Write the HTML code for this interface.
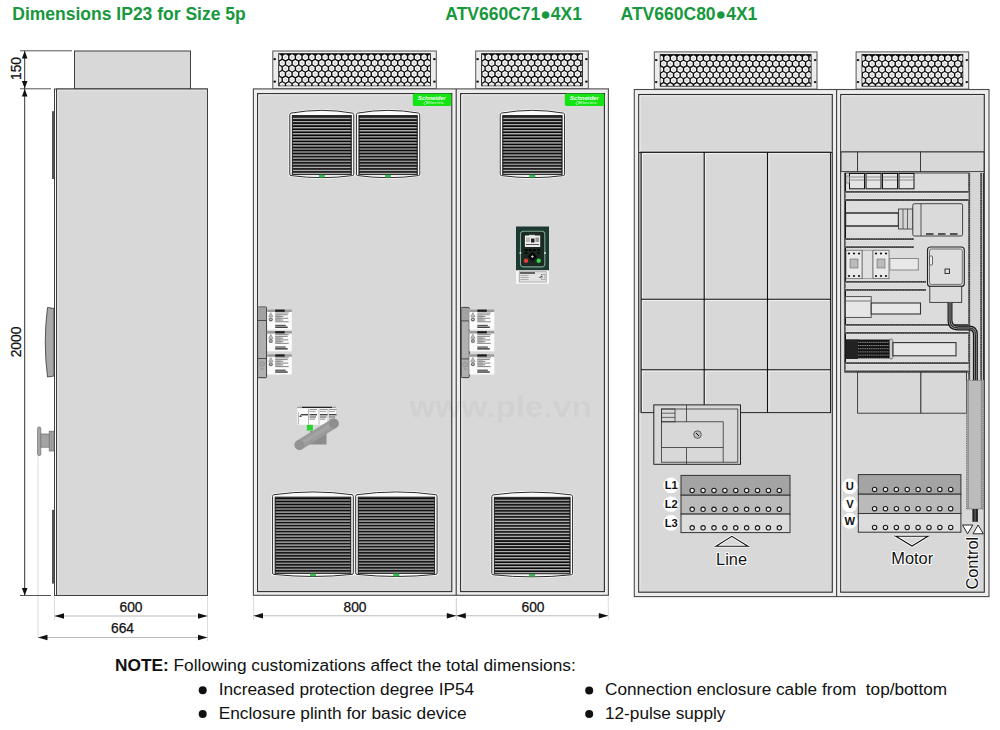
<!DOCTYPE html>
<html><head><meta charset="utf-8"><title>Dimensions IP23 for Size 5p</title>
<style>html,body{margin:0;padding:0;background:#fff;width:1000px;height:730px;overflow:hidden}
svg{display:block;font-family:"Liberation Sans",sans-serif;-webkit-font-smoothing:antialiased}text{white-space:pre}</style></head>
<body>
<svg width="1000" height="730" viewBox="0 0 1000 730" font-family="Liberation Sans, sans-serif">
<rect width="1000" height="730" fill="#fff"/>
<text x="12.3" y="19.6" font-size="17.5" font-weight="bold" fill="#17983d">Dimensions IP23 for Size 5p</text>
<text x="445.3" y="19.6" font-size="17.5" font-weight="bold" fill="#17983d">ATV660C71●4X1</text>
<text x="620.6" y="19.6" font-size="17.5" font-weight="bold" fill="#17983d">ATV660C80●4X1</text>
<rect x="74.5" y="51" width="116" height="38" fill="#d8d8d8" stroke="#404040" stroke-width="1"/>
<rect x="54.5" y="89" width="153" height="506.5" fill="#fff" stroke="#404040" stroke-width="1"/>
<rect x="56.5" y="89" width="151" height="506.5" fill="#d8d8d8" stroke="#404040" stroke-width="1"/>
<path d="M57.8,594 V90.4 H206" fill="none" stroke="#e6e6e6" stroke-width="0.8"/>
<rect x="52" y="111" width="2" height="68" rx="0.6" fill="#555"/>
<rect x="52" y="509.7" width="2" height="74" rx="0.6" fill="#555"/>
<path d="M47.5,307.5 L54,308.5 L54,376 L47.5,377 Q43,342 47.5,307.5 Z" fill="#a8a8a8" stroke="#333" stroke-width="0.8"/>
<rect x="40" y="434" width="9.5" height="13.2" fill="#a4a4a4" stroke="#6a6a6a" stroke-width="0.7"/>
<rect x="37.6" y="427" width="3.2" height="28.6" rx="1.4" fill="#a8a8a8" stroke="#6a6a6a" stroke-width="0.7"/>
<rect x="49.2" y="431.2" width="4.8" height="19.8" fill="#a4a4a4" stroke="#6a6a6a" stroke-width="0.7"/>
<line x1="51.5" y1="431.2" x2="51.5" y2="451" stroke="#8a8a8a" stroke-width="0.5"/>
<line x1="38" y1="456" x2="38" y2="637" stroke="#ddd" stroke-width="1"/>
<line x1="20" y1="50.8" x2="72" y2="50.8" stroke="#555" stroke-width="1"/>
<line x1="20" y1="88.8" x2="51" y2="88.8" stroke="#555" stroke-width="1"/>
<line x1="20" y1="595.5" x2="51" y2="595.5" stroke="#555" stroke-width="1"/>
<line x1="24.7" y1="51" x2="24.7" y2="595" stroke="#333" stroke-width="1"/>
<path d="M24.7,51 L21.9,58.5 L27.5,58.5 Z" fill="#111"/>
<path d="M24.7,88.6 L21.9,81.1 L27.5,81.1 Z" fill="#111"/>
<path d="M24.7,89 L21.9,96.5 L27.5,96.5 Z" fill="#111"/>
<path d="M24.7,595.4 L21.9,587.9 L27.5,587.9 Z" fill="#111"/>
<text transform="translate(20.5,68.5) rotate(-90)" font-size="13.8" text-anchor="middle" fill="#111" stroke="#111" stroke-width="0.25">150</text>
<text transform="translate(20.5,342) rotate(-90)" font-size="13.8" text-anchor="middle" fill="#111" stroke="#111" stroke-width="0.25">2000</text>
<line x1="54.5" y1="597" x2="54.5" y2="620" stroke="#ddd"/>
<line x1="207.5" y1="597" x2="207.5" y2="641" stroke="#ddd"/>
<line x1="54.5" y1="616" x2="207.5" y2="616" stroke="#bbb" stroke-width="1"/>
<path d="M54.5,616 L64.0,613.3 L64.0,618.7 Z" fill="#111"/>
<path d="M207.5,616 L198.0,613.3 L198.0,618.7 Z" fill="#111"/>
<text x="131" y="612.2" font-size="13.8" text-anchor="middle" fill="#111" stroke="#111" stroke-width="0.25">600</text>
<line x1="38" y1="637.5" x2="207.5" y2="637.5" stroke="#bbb" stroke-width="1"/>
<path d="M38,637.5 L47.5,634.8 L47.5,640.2 Z" fill="#111"/>
<path d="M207.5,637.5 L198.0,634.8 L198.0,640.2 Z" fill="#111"/>
<text x="122.5" y="632.6" font-size="13.8" text-anchor="middle" fill="#111" stroke="#111" stroke-width="0.25">664</text>
<rect x="272.8" y="51.0" width="163.5" height="37.7" fill="#ececec" stroke="#555" stroke-width="1"/>
<rect x="278.3" y="53.2" width="152.5" height="33.0" fill="#0d0d0d"/>
<ellipse cx="274.7" cy="59.2" rx="1.4" ry="1.15" fill="#1a1a1a"/>
<ellipse cx="274.7" cy="81.7" rx="1.4" ry="1.15" fill="#1a1a1a"/>
<ellipse cx="434.40000000000003" cy="59.2" rx="1.4" ry="1.15" fill="#1a1a1a"/>
<ellipse cx="434.40000000000003" cy="81.7" rx="1.4" ry="1.15" fill="#1a1a1a"/>
<clipPath id="gc272"><rect x="279.1" y="54.0" width="150.9" height="31.4"/></clipPath>
<g clip-path="url(#gc272)">
<polygon points="281.50,58.80 278.90,60.30 276.30,58.80 276.30,55.80 278.90,54.30 281.50,55.80" fill="#fafafa"/>
<circle cx="278.90" cy="57.30" r="1.5" fill="#d6d6d6"/>
<polygon points="288.10,58.80 285.50,60.30 282.90,58.80 282.90,55.80 285.50,54.30 288.10,55.80" fill="#fafafa"/>
<circle cx="285.50" cy="57.30" r="1.5" fill="#d6d6d6"/>
<polygon points="294.70,58.80 292.10,60.30 289.50,58.80 289.50,55.80 292.10,54.30 294.70,55.80" fill="#fafafa"/>
<circle cx="292.10" cy="57.30" r="1.5" fill="#d6d6d6"/>
<polygon points="301.30,58.80 298.70,60.30 296.10,58.80 296.10,55.80 298.70,54.30 301.30,55.80" fill="#fafafa"/>
<circle cx="298.70" cy="57.30" r="1.5" fill="#d6d6d6"/>
<polygon points="307.90,58.80 305.30,60.30 302.70,58.80 302.70,55.80 305.30,54.30 307.90,55.80" fill="#fafafa"/>
<circle cx="305.30" cy="57.30" r="1.5" fill="#d6d6d6"/>
<polygon points="314.50,58.80 311.90,60.30 309.30,58.80 309.30,55.80 311.90,54.30 314.50,55.80" fill="#fafafa"/>
<circle cx="311.90" cy="57.30" r="1.5" fill="#d6d6d6"/>
<polygon points="321.10,58.80 318.50,60.30 315.90,58.80 315.90,55.80 318.50,54.30 321.10,55.80" fill="#fafafa"/>
<circle cx="318.50" cy="57.30" r="1.5" fill="#d6d6d6"/>
<polygon points="327.70,58.80 325.10,60.30 322.50,58.80 322.50,55.80 325.10,54.30 327.70,55.80" fill="#fafafa"/>
<circle cx="325.10" cy="57.30" r="1.5" fill="#d6d6d6"/>
<polygon points="334.30,58.80 331.70,60.30 329.10,58.80 329.10,55.80 331.70,54.30 334.30,55.80" fill="#fafafa"/>
<circle cx="331.70" cy="57.30" r="1.5" fill="#d6d6d6"/>
<polygon points="340.90,58.80 338.30,60.30 335.70,58.80 335.70,55.80 338.30,54.30 340.90,55.80" fill="#fafafa"/>
<circle cx="338.30" cy="57.30" r="1.5" fill="#d6d6d6"/>
<polygon points="347.50,58.80 344.90,60.30 342.30,58.80 342.30,55.80 344.90,54.30 347.50,55.80" fill="#fafafa"/>
<circle cx="344.90" cy="57.30" r="1.5" fill="#d6d6d6"/>
<polygon points="354.10,58.80 351.50,60.30 348.90,58.80 348.90,55.80 351.50,54.30 354.10,55.80" fill="#fafafa"/>
<circle cx="351.50" cy="57.30" r="1.5" fill="#d6d6d6"/>
<polygon points="360.70,58.80 358.10,60.30 355.50,58.80 355.50,55.80 358.10,54.30 360.70,55.80" fill="#fafafa"/>
<circle cx="358.10" cy="57.30" r="1.5" fill="#d6d6d6"/>
<polygon points="367.30,58.80 364.70,60.30 362.10,58.80 362.10,55.80 364.70,54.30 367.30,55.80" fill="#fafafa"/>
<circle cx="364.70" cy="57.30" r="1.5" fill="#d6d6d6"/>
<polygon points="373.90,58.80 371.30,60.30 368.70,58.80 368.70,55.80 371.30,54.30 373.90,55.80" fill="#fafafa"/>
<circle cx="371.30" cy="57.30" r="1.5" fill="#d6d6d6"/>
<polygon points="380.50,58.80 377.90,60.30 375.30,58.80 375.30,55.80 377.90,54.30 380.50,55.80" fill="#fafafa"/>
<circle cx="377.90" cy="57.30" r="1.5" fill="#d6d6d6"/>
<polygon points="387.10,58.80 384.50,60.30 381.90,58.80 381.90,55.80 384.50,54.30 387.10,55.80" fill="#fafafa"/>
<circle cx="384.50" cy="57.30" r="1.5" fill="#d6d6d6"/>
<polygon points="393.70,58.80 391.10,60.30 388.50,58.80 388.50,55.80 391.10,54.30 393.70,55.80" fill="#fafafa"/>
<circle cx="391.10" cy="57.30" r="1.5" fill="#d6d6d6"/>
<polygon points="400.30,58.80 397.70,60.30 395.10,58.80 395.10,55.80 397.70,54.30 400.30,55.80" fill="#fafafa"/>
<circle cx="397.70" cy="57.30" r="1.5" fill="#d6d6d6"/>
<polygon points="406.90,58.80 404.30,60.30 401.70,58.80 401.70,55.80 404.30,54.30 406.90,55.80" fill="#fafafa"/>
<circle cx="404.30" cy="57.30" r="1.5" fill="#d6d6d6"/>
<polygon points="413.50,58.80 410.90,60.30 408.30,58.80 408.30,55.80 410.90,54.30 413.50,55.80" fill="#fafafa"/>
<circle cx="410.90" cy="57.30" r="1.5" fill="#d6d6d6"/>
<polygon points="420.10,58.80 417.50,60.30 414.90,58.80 414.90,55.80 417.50,54.30 420.10,55.80" fill="#fafafa"/>
<circle cx="417.50" cy="57.30" r="1.5" fill="#d6d6d6"/>
<polygon points="426.70,58.80 424.10,60.30 421.50,58.80 421.50,55.80 424.10,54.30 426.70,55.80" fill="#fafafa"/>
<circle cx="424.10" cy="57.30" r="1.5" fill="#d6d6d6"/>
<polygon points="433.30,58.80 430.70,60.30 428.10,58.80 428.10,55.80 430.70,54.30 433.30,55.80" fill="#fafafa"/>
<circle cx="430.70" cy="57.30" r="1.5" fill="#d6d6d6"/>
<polygon points="278.20,64.40 275.60,65.90 273.00,64.40 273.00,61.40 275.60,59.90 278.20,61.40" fill="#fafafa"/>
<circle cx="275.60" cy="62.90" r="1.5" fill="#d6d6d6"/>
<polygon points="284.80,64.40 282.20,65.90 279.60,64.40 279.60,61.40 282.20,59.90 284.80,61.40" fill="#fafafa"/>
<circle cx="282.20" cy="62.90" r="1.5" fill="#d6d6d6"/>
<polygon points="291.40,64.40 288.80,65.90 286.20,64.40 286.20,61.40 288.80,59.90 291.40,61.40" fill="#fafafa"/>
<circle cx="288.80" cy="62.90" r="1.5" fill="#d6d6d6"/>
<polygon points="298.00,64.40 295.40,65.90 292.80,64.40 292.80,61.40 295.40,59.90 298.00,61.40" fill="#fafafa"/>
<circle cx="295.40" cy="62.90" r="1.5" fill="#d6d6d6"/>
<polygon points="304.60,64.40 302.00,65.90 299.40,64.40 299.40,61.40 302.00,59.90 304.60,61.40" fill="#fafafa"/>
<circle cx="302.00" cy="62.90" r="1.5" fill="#d6d6d6"/>
<polygon points="311.20,64.40 308.60,65.90 306.00,64.40 306.00,61.40 308.60,59.90 311.20,61.40" fill="#fafafa"/>
<circle cx="308.60" cy="62.90" r="1.5" fill="#d6d6d6"/>
<polygon points="317.80,64.40 315.20,65.90 312.60,64.40 312.60,61.40 315.20,59.90 317.80,61.40" fill="#fafafa"/>
<circle cx="315.20" cy="62.90" r="1.5" fill="#d6d6d6"/>
<polygon points="324.40,64.40 321.80,65.90 319.20,64.40 319.20,61.40 321.80,59.90 324.40,61.40" fill="#fafafa"/>
<circle cx="321.80" cy="62.90" r="1.5" fill="#d6d6d6"/>
<polygon points="331.00,64.40 328.40,65.90 325.80,64.40 325.80,61.40 328.40,59.90 331.00,61.40" fill="#fafafa"/>
<circle cx="328.40" cy="62.90" r="1.5" fill="#d6d6d6"/>
<polygon points="337.60,64.40 335.00,65.90 332.40,64.40 332.40,61.40 335.00,59.90 337.60,61.40" fill="#fafafa"/>
<circle cx="335.00" cy="62.90" r="1.5" fill="#d6d6d6"/>
<polygon points="344.20,64.40 341.60,65.90 339.00,64.40 339.00,61.40 341.60,59.90 344.20,61.40" fill="#fafafa"/>
<circle cx="341.60" cy="62.90" r="1.5" fill="#d6d6d6"/>
<polygon points="350.80,64.40 348.20,65.90 345.60,64.40 345.60,61.40 348.20,59.90 350.80,61.40" fill="#fafafa"/>
<circle cx="348.20" cy="62.90" r="1.5" fill="#d6d6d6"/>
<polygon points="357.40,64.40 354.80,65.90 352.20,64.40 352.20,61.40 354.80,59.90 357.40,61.40" fill="#fafafa"/>
<circle cx="354.80" cy="62.90" r="1.5" fill="#d6d6d6"/>
<polygon points="364.00,64.40 361.40,65.90 358.80,64.40 358.80,61.40 361.40,59.90 364.00,61.40" fill="#fafafa"/>
<circle cx="361.40" cy="62.90" r="1.5" fill="#d6d6d6"/>
<polygon points="370.60,64.40 368.00,65.90 365.40,64.40 365.40,61.40 368.00,59.90 370.60,61.40" fill="#fafafa"/>
<circle cx="368.00" cy="62.90" r="1.5" fill="#d6d6d6"/>
<polygon points="377.20,64.40 374.60,65.90 372.00,64.40 372.00,61.40 374.60,59.90 377.20,61.40" fill="#fafafa"/>
<circle cx="374.60" cy="62.90" r="1.5" fill="#d6d6d6"/>
<polygon points="383.80,64.40 381.20,65.90 378.60,64.40 378.60,61.40 381.20,59.90 383.80,61.40" fill="#fafafa"/>
<circle cx="381.20" cy="62.90" r="1.5" fill="#d6d6d6"/>
<polygon points="390.40,64.40 387.80,65.90 385.20,64.40 385.20,61.40 387.80,59.90 390.40,61.40" fill="#fafafa"/>
<circle cx="387.80" cy="62.90" r="1.5" fill="#d6d6d6"/>
<polygon points="397.00,64.40 394.40,65.90 391.80,64.40 391.80,61.40 394.40,59.90 397.00,61.40" fill="#fafafa"/>
<circle cx="394.40" cy="62.90" r="1.5" fill="#d6d6d6"/>
<polygon points="403.60,64.40 401.00,65.90 398.40,64.40 398.40,61.40 401.00,59.90 403.60,61.40" fill="#fafafa"/>
<circle cx="401.00" cy="62.90" r="1.5" fill="#d6d6d6"/>
<polygon points="410.20,64.40 407.60,65.90 405.00,64.40 405.00,61.40 407.60,59.90 410.20,61.40" fill="#fafafa"/>
<circle cx="407.60" cy="62.90" r="1.5" fill="#d6d6d6"/>
<polygon points="416.80,64.40 414.20,65.90 411.60,64.40 411.60,61.40 414.20,59.90 416.80,61.40" fill="#fafafa"/>
<circle cx="414.20" cy="62.90" r="1.5" fill="#d6d6d6"/>
<polygon points="423.40,64.40 420.80,65.90 418.20,64.40 418.20,61.40 420.80,59.90 423.40,61.40" fill="#fafafa"/>
<circle cx="420.80" cy="62.90" r="1.5" fill="#d6d6d6"/>
<polygon points="430.00,64.40 427.40,65.90 424.80,64.40 424.80,61.40 427.40,59.90 430.00,61.40" fill="#fafafa"/>
<circle cx="427.40" cy="62.90" r="1.5" fill="#d6d6d6"/>
<polygon points="281.50,70.00 278.90,71.50 276.30,70.00 276.30,67.00 278.90,65.50 281.50,67.00" fill="#fafafa"/>
<circle cx="278.90" cy="68.50" r="1.5" fill="#d6d6d6"/>
<polygon points="288.10,70.00 285.50,71.50 282.90,70.00 282.90,67.00 285.50,65.50 288.10,67.00" fill="#fafafa"/>
<circle cx="285.50" cy="68.50" r="1.5" fill="#d6d6d6"/>
<polygon points="294.70,70.00 292.10,71.50 289.50,70.00 289.50,67.00 292.10,65.50 294.70,67.00" fill="#fafafa"/>
<circle cx="292.10" cy="68.50" r="1.5" fill="#d6d6d6"/>
<polygon points="301.30,70.00 298.70,71.50 296.10,70.00 296.10,67.00 298.70,65.50 301.30,67.00" fill="#fafafa"/>
<circle cx="298.70" cy="68.50" r="1.5" fill="#d6d6d6"/>
<polygon points="307.90,70.00 305.30,71.50 302.70,70.00 302.70,67.00 305.30,65.50 307.90,67.00" fill="#fafafa"/>
<circle cx="305.30" cy="68.50" r="1.5" fill="#d6d6d6"/>
<polygon points="314.50,70.00 311.90,71.50 309.30,70.00 309.30,67.00 311.90,65.50 314.50,67.00" fill="#fafafa"/>
<circle cx="311.90" cy="68.50" r="1.5" fill="#d6d6d6"/>
<polygon points="321.10,70.00 318.50,71.50 315.90,70.00 315.90,67.00 318.50,65.50 321.10,67.00" fill="#fafafa"/>
<circle cx="318.50" cy="68.50" r="1.5" fill="#d6d6d6"/>
<polygon points="327.70,70.00 325.10,71.50 322.50,70.00 322.50,67.00 325.10,65.50 327.70,67.00" fill="#fafafa"/>
<circle cx="325.10" cy="68.50" r="1.5" fill="#d6d6d6"/>
<polygon points="334.30,70.00 331.70,71.50 329.10,70.00 329.10,67.00 331.70,65.50 334.30,67.00" fill="#fafafa"/>
<circle cx="331.70" cy="68.50" r="1.5" fill="#d6d6d6"/>
<polygon points="340.90,70.00 338.30,71.50 335.70,70.00 335.70,67.00 338.30,65.50 340.90,67.00" fill="#fafafa"/>
<circle cx="338.30" cy="68.50" r="1.5" fill="#d6d6d6"/>
<polygon points="347.50,70.00 344.90,71.50 342.30,70.00 342.30,67.00 344.90,65.50 347.50,67.00" fill="#fafafa"/>
<circle cx="344.90" cy="68.50" r="1.5" fill="#d6d6d6"/>
<polygon points="354.10,70.00 351.50,71.50 348.90,70.00 348.90,67.00 351.50,65.50 354.10,67.00" fill="#fafafa"/>
<circle cx="351.50" cy="68.50" r="1.5" fill="#d6d6d6"/>
<polygon points="360.70,70.00 358.10,71.50 355.50,70.00 355.50,67.00 358.10,65.50 360.70,67.00" fill="#fafafa"/>
<circle cx="358.10" cy="68.50" r="1.5" fill="#d6d6d6"/>
<polygon points="367.30,70.00 364.70,71.50 362.10,70.00 362.10,67.00 364.70,65.50 367.30,67.00" fill="#fafafa"/>
<circle cx="364.70" cy="68.50" r="1.5" fill="#d6d6d6"/>
<polygon points="373.90,70.00 371.30,71.50 368.70,70.00 368.70,67.00 371.30,65.50 373.90,67.00" fill="#fafafa"/>
<circle cx="371.30" cy="68.50" r="1.5" fill="#d6d6d6"/>
<polygon points="380.50,70.00 377.90,71.50 375.30,70.00 375.30,67.00 377.90,65.50 380.50,67.00" fill="#fafafa"/>
<circle cx="377.90" cy="68.50" r="1.5" fill="#d6d6d6"/>
<polygon points="387.10,70.00 384.50,71.50 381.90,70.00 381.90,67.00 384.50,65.50 387.10,67.00" fill="#fafafa"/>
<circle cx="384.50" cy="68.50" r="1.5" fill="#d6d6d6"/>
<polygon points="393.70,70.00 391.10,71.50 388.50,70.00 388.50,67.00 391.10,65.50 393.70,67.00" fill="#fafafa"/>
<circle cx="391.10" cy="68.50" r="1.5" fill="#d6d6d6"/>
<polygon points="400.30,70.00 397.70,71.50 395.10,70.00 395.10,67.00 397.70,65.50 400.30,67.00" fill="#fafafa"/>
<circle cx="397.70" cy="68.50" r="1.5" fill="#d6d6d6"/>
<polygon points="406.90,70.00 404.30,71.50 401.70,70.00 401.70,67.00 404.30,65.50 406.90,67.00" fill="#fafafa"/>
<circle cx="404.30" cy="68.50" r="1.5" fill="#d6d6d6"/>
<polygon points="413.50,70.00 410.90,71.50 408.30,70.00 408.30,67.00 410.90,65.50 413.50,67.00" fill="#fafafa"/>
<circle cx="410.90" cy="68.50" r="1.5" fill="#d6d6d6"/>
<polygon points="420.10,70.00 417.50,71.50 414.90,70.00 414.90,67.00 417.50,65.50 420.10,67.00" fill="#fafafa"/>
<circle cx="417.50" cy="68.50" r="1.5" fill="#d6d6d6"/>
<polygon points="426.70,70.00 424.10,71.50 421.50,70.00 421.50,67.00 424.10,65.50 426.70,67.00" fill="#fafafa"/>
<circle cx="424.10" cy="68.50" r="1.5" fill="#d6d6d6"/>
<polygon points="433.30,70.00 430.70,71.50 428.10,70.00 428.10,67.00 430.70,65.50 433.30,67.00" fill="#fafafa"/>
<circle cx="430.70" cy="68.50" r="1.5" fill="#d6d6d6"/>
<polygon points="278.20,75.60 275.60,77.10 273.00,75.60 273.00,72.60 275.60,71.10 278.20,72.60" fill="#fafafa"/>
<circle cx="275.60" cy="74.10" r="1.5" fill="#d6d6d6"/>
<polygon points="284.80,75.60 282.20,77.10 279.60,75.60 279.60,72.60 282.20,71.10 284.80,72.60" fill="#fafafa"/>
<circle cx="282.20" cy="74.10" r="1.5" fill="#d6d6d6"/>
<polygon points="291.40,75.60 288.80,77.10 286.20,75.60 286.20,72.60 288.80,71.10 291.40,72.60" fill="#fafafa"/>
<circle cx="288.80" cy="74.10" r="1.5" fill="#d6d6d6"/>
<polygon points="298.00,75.60 295.40,77.10 292.80,75.60 292.80,72.60 295.40,71.10 298.00,72.60" fill="#fafafa"/>
<circle cx="295.40" cy="74.10" r="1.5" fill="#d6d6d6"/>
<polygon points="304.60,75.60 302.00,77.10 299.40,75.60 299.40,72.60 302.00,71.10 304.60,72.60" fill="#fafafa"/>
<circle cx="302.00" cy="74.10" r="1.5" fill="#d6d6d6"/>
<polygon points="311.20,75.60 308.60,77.10 306.00,75.60 306.00,72.60 308.60,71.10 311.20,72.60" fill="#fafafa"/>
<circle cx="308.60" cy="74.10" r="1.5" fill="#d6d6d6"/>
<polygon points="317.80,75.60 315.20,77.10 312.60,75.60 312.60,72.60 315.20,71.10 317.80,72.60" fill="#fafafa"/>
<circle cx="315.20" cy="74.10" r="1.5" fill="#d6d6d6"/>
<polygon points="324.40,75.60 321.80,77.10 319.20,75.60 319.20,72.60 321.80,71.10 324.40,72.60" fill="#fafafa"/>
<circle cx="321.80" cy="74.10" r="1.5" fill="#d6d6d6"/>
<polygon points="331.00,75.60 328.40,77.10 325.80,75.60 325.80,72.60 328.40,71.10 331.00,72.60" fill="#fafafa"/>
<circle cx="328.40" cy="74.10" r="1.5" fill="#d6d6d6"/>
<polygon points="337.60,75.60 335.00,77.10 332.40,75.60 332.40,72.60 335.00,71.10 337.60,72.60" fill="#fafafa"/>
<circle cx="335.00" cy="74.10" r="1.5" fill="#d6d6d6"/>
<polygon points="344.20,75.60 341.60,77.10 339.00,75.60 339.00,72.60 341.60,71.10 344.20,72.60" fill="#fafafa"/>
<circle cx="341.60" cy="74.10" r="1.5" fill="#d6d6d6"/>
<polygon points="350.80,75.60 348.20,77.10 345.60,75.60 345.60,72.60 348.20,71.10 350.80,72.60" fill="#fafafa"/>
<circle cx="348.20" cy="74.10" r="1.5" fill="#d6d6d6"/>
<polygon points="357.40,75.60 354.80,77.10 352.20,75.60 352.20,72.60 354.80,71.10 357.40,72.60" fill="#fafafa"/>
<circle cx="354.80" cy="74.10" r="1.5" fill="#d6d6d6"/>
<polygon points="364.00,75.60 361.40,77.10 358.80,75.60 358.80,72.60 361.40,71.10 364.00,72.60" fill="#fafafa"/>
<circle cx="361.40" cy="74.10" r="1.5" fill="#d6d6d6"/>
<polygon points="370.60,75.60 368.00,77.10 365.40,75.60 365.40,72.60 368.00,71.10 370.60,72.60" fill="#fafafa"/>
<circle cx="368.00" cy="74.10" r="1.5" fill="#d6d6d6"/>
<polygon points="377.20,75.60 374.60,77.10 372.00,75.60 372.00,72.60 374.60,71.10 377.20,72.60" fill="#fafafa"/>
<circle cx="374.60" cy="74.10" r="1.5" fill="#d6d6d6"/>
<polygon points="383.80,75.60 381.20,77.10 378.60,75.60 378.60,72.60 381.20,71.10 383.80,72.60" fill="#fafafa"/>
<circle cx="381.20" cy="74.10" r="1.5" fill="#d6d6d6"/>
<polygon points="390.40,75.60 387.80,77.10 385.20,75.60 385.20,72.60 387.80,71.10 390.40,72.60" fill="#fafafa"/>
<circle cx="387.80" cy="74.10" r="1.5" fill="#d6d6d6"/>
<polygon points="397.00,75.60 394.40,77.10 391.80,75.60 391.80,72.60 394.40,71.10 397.00,72.60" fill="#fafafa"/>
<circle cx="394.40" cy="74.10" r="1.5" fill="#d6d6d6"/>
<polygon points="403.60,75.60 401.00,77.10 398.40,75.60 398.40,72.60 401.00,71.10 403.60,72.60" fill="#fafafa"/>
<circle cx="401.00" cy="74.10" r="1.5" fill="#d6d6d6"/>
<polygon points="410.20,75.60 407.60,77.10 405.00,75.60 405.00,72.60 407.60,71.10 410.20,72.60" fill="#fafafa"/>
<circle cx="407.60" cy="74.10" r="1.5" fill="#d6d6d6"/>
<polygon points="416.80,75.60 414.20,77.10 411.60,75.60 411.60,72.60 414.20,71.10 416.80,72.60" fill="#fafafa"/>
<circle cx="414.20" cy="74.10" r="1.5" fill="#d6d6d6"/>
<polygon points="423.40,75.60 420.80,77.10 418.20,75.60 418.20,72.60 420.80,71.10 423.40,72.60" fill="#fafafa"/>
<circle cx="420.80" cy="74.10" r="1.5" fill="#d6d6d6"/>
<polygon points="430.00,75.60 427.40,77.10 424.80,75.60 424.80,72.60 427.40,71.10 430.00,72.60" fill="#fafafa"/>
<circle cx="427.40" cy="74.10" r="1.5" fill="#d6d6d6"/>
<polygon points="281.50,81.20 278.90,82.70 276.30,81.20 276.30,78.20 278.90,76.70 281.50,78.20" fill="#fafafa"/>
<circle cx="278.90" cy="79.70" r="1.5" fill="#d6d6d6"/>
<polygon points="288.10,81.20 285.50,82.70 282.90,81.20 282.90,78.20 285.50,76.70 288.10,78.20" fill="#fafafa"/>
<circle cx="285.50" cy="79.70" r="1.5" fill="#d6d6d6"/>
<polygon points="294.70,81.20 292.10,82.70 289.50,81.20 289.50,78.20 292.10,76.70 294.70,78.20" fill="#fafafa"/>
<circle cx="292.10" cy="79.70" r="1.5" fill="#d6d6d6"/>
<polygon points="301.30,81.20 298.70,82.70 296.10,81.20 296.10,78.20 298.70,76.70 301.30,78.20" fill="#fafafa"/>
<circle cx="298.70" cy="79.70" r="1.5" fill="#d6d6d6"/>
<polygon points="307.90,81.20 305.30,82.70 302.70,81.20 302.70,78.20 305.30,76.70 307.90,78.20" fill="#fafafa"/>
<circle cx="305.30" cy="79.70" r="1.5" fill="#d6d6d6"/>
<polygon points="314.50,81.20 311.90,82.70 309.30,81.20 309.30,78.20 311.90,76.70 314.50,78.20" fill="#fafafa"/>
<circle cx="311.90" cy="79.70" r="1.5" fill="#d6d6d6"/>
<polygon points="321.10,81.20 318.50,82.70 315.90,81.20 315.90,78.20 318.50,76.70 321.10,78.20" fill="#fafafa"/>
<circle cx="318.50" cy="79.70" r="1.5" fill="#d6d6d6"/>
<polygon points="327.70,81.20 325.10,82.70 322.50,81.20 322.50,78.20 325.10,76.70 327.70,78.20" fill="#fafafa"/>
<circle cx="325.10" cy="79.70" r="1.5" fill="#d6d6d6"/>
<polygon points="334.30,81.20 331.70,82.70 329.10,81.20 329.10,78.20 331.70,76.70 334.30,78.20" fill="#fafafa"/>
<circle cx="331.70" cy="79.70" r="1.5" fill="#d6d6d6"/>
<polygon points="340.90,81.20 338.30,82.70 335.70,81.20 335.70,78.20 338.30,76.70 340.90,78.20" fill="#fafafa"/>
<circle cx="338.30" cy="79.70" r="1.5" fill="#d6d6d6"/>
<polygon points="347.50,81.20 344.90,82.70 342.30,81.20 342.30,78.20 344.90,76.70 347.50,78.20" fill="#fafafa"/>
<circle cx="344.90" cy="79.70" r="1.5" fill="#d6d6d6"/>
<polygon points="354.10,81.20 351.50,82.70 348.90,81.20 348.90,78.20 351.50,76.70 354.10,78.20" fill="#fafafa"/>
<circle cx="351.50" cy="79.70" r="1.5" fill="#d6d6d6"/>
<polygon points="360.70,81.20 358.10,82.70 355.50,81.20 355.50,78.20 358.10,76.70 360.70,78.20" fill="#fafafa"/>
<circle cx="358.10" cy="79.70" r="1.5" fill="#d6d6d6"/>
<polygon points="367.30,81.20 364.70,82.70 362.10,81.20 362.10,78.20 364.70,76.70 367.30,78.20" fill="#fafafa"/>
<circle cx="364.70" cy="79.70" r="1.5" fill="#d6d6d6"/>
<polygon points="373.90,81.20 371.30,82.70 368.70,81.20 368.70,78.20 371.30,76.70 373.90,78.20" fill="#fafafa"/>
<circle cx="371.30" cy="79.70" r="1.5" fill="#d6d6d6"/>
<polygon points="380.50,81.20 377.90,82.70 375.30,81.20 375.30,78.20 377.90,76.70 380.50,78.20" fill="#fafafa"/>
<circle cx="377.90" cy="79.70" r="1.5" fill="#d6d6d6"/>
<polygon points="387.10,81.20 384.50,82.70 381.90,81.20 381.90,78.20 384.50,76.70 387.10,78.20" fill="#fafafa"/>
<circle cx="384.50" cy="79.70" r="1.5" fill="#d6d6d6"/>
<polygon points="393.70,81.20 391.10,82.70 388.50,81.20 388.50,78.20 391.10,76.70 393.70,78.20" fill="#fafafa"/>
<circle cx="391.10" cy="79.70" r="1.5" fill="#d6d6d6"/>
<polygon points="400.30,81.20 397.70,82.70 395.10,81.20 395.10,78.20 397.70,76.70 400.30,78.20" fill="#fafafa"/>
<circle cx="397.70" cy="79.70" r="1.5" fill="#d6d6d6"/>
<polygon points="406.90,81.20 404.30,82.70 401.70,81.20 401.70,78.20 404.30,76.70 406.90,78.20" fill="#fafafa"/>
<circle cx="404.30" cy="79.70" r="1.5" fill="#d6d6d6"/>
<polygon points="413.50,81.20 410.90,82.70 408.30,81.20 408.30,78.20 410.90,76.70 413.50,78.20" fill="#fafafa"/>
<circle cx="410.90" cy="79.70" r="1.5" fill="#d6d6d6"/>
<polygon points="420.10,81.20 417.50,82.70 414.90,81.20 414.90,78.20 417.50,76.70 420.10,78.20" fill="#fafafa"/>
<circle cx="417.50" cy="79.70" r="1.5" fill="#d6d6d6"/>
<polygon points="426.70,81.20 424.10,82.70 421.50,81.20 421.50,78.20 424.10,76.70 426.70,78.20" fill="#fafafa"/>
<circle cx="424.10" cy="79.70" r="1.5" fill="#d6d6d6"/>
<polygon points="433.30,81.20 430.70,82.70 428.10,81.20 428.10,78.20 430.70,76.70 433.30,78.20" fill="#fafafa"/>
<circle cx="430.70" cy="79.70" r="1.5" fill="#d6d6d6"/>
<polygon points="278.20,86.80 275.60,88.30 273.00,86.80 273.00,83.80 275.60,82.30 278.20,83.80" fill="#fafafa"/>
<circle cx="275.60" cy="85.30" r="1.5" fill="#d6d6d6"/>
<polygon points="284.80,86.80 282.20,88.30 279.60,86.80 279.60,83.80 282.20,82.30 284.80,83.80" fill="#fafafa"/>
<circle cx="282.20" cy="85.30" r="1.5" fill="#d6d6d6"/>
<polygon points="291.40,86.80 288.80,88.30 286.20,86.80 286.20,83.80 288.80,82.30 291.40,83.80" fill="#fafafa"/>
<circle cx="288.80" cy="85.30" r="1.5" fill="#d6d6d6"/>
<polygon points="298.00,86.80 295.40,88.30 292.80,86.80 292.80,83.80 295.40,82.30 298.00,83.80" fill="#fafafa"/>
<circle cx="295.40" cy="85.30" r="1.5" fill="#d6d6d6"/>
<polygon points="304.60,86.80 302.00,88.30 299.40,86.80 299.40,83.80 302.00,82.30 304.60,83.80" fill="#fafafa"/>
<circle cx="302.00" cy="85.30" r="1.5" fill="#d6d6d6"/>
<polygon points="311.20,86.80 308.60,88.30 306.00,86.80 306.00,83.80 308.60,82.30 311.20,83.80" fill="#fafafa"/>
<circle cx="308.60" cy="85.30" r="1.5" fill="#d6d6d6"/>
<polygon points="317.80,86.80 315.20,88.30 312.60,86.80 312.60,83.80 315.20,82.30 317.80,83.80" fill="#fafafa"/>
<circle cx="315.20" cy="85.30" r="1.5" fill="#d6d6d6"/>
<polygon points="324.40,86.80 321.80,88.30 319.20,86.80 319.20,83.80 321.80,82.30 324.40,83.80" fill="#fafafa"/>
<circle cx="321.80" cy="85.30" r="1.5" fill="#d6d6d6"/>
<polygon points="331.00,86.80 328.40,88.30 325.80,86.80 325.80,83.80 328.40,82.30 331.00,83.80" fill="#fafafa"/>
<circle cx="328.40" cy="85.30" r="1.5" fill="#d6d6d6"/>
<polygon points="337.60,86.80 335.00,88.30 332.40,86.80 332.40,83.80 335.00,82.30 337.60,83.80" fill="#fafafa"/>
<circle cx="335.00" cy="85.30" r="1.5" fill="#d6d6d6"/>
<polygon points="344.20,86.80 341.60,88.30 339.00,86.80 339.00,83.80 341.60,82.30 344.20,83.80" fill="#fafafa"/>
<circle cx="341.60" cy="85.30" r="1.5" fill="#d6d6d6"/>
<polygon points="350.80,86.80 348.20,88.30 345.60,86.80 345.60,83.80 348.20,82.30 350.80,83.80" fill="#fafafa"/>
<circle cx="348.20" cy="85.30" r="1.5" fill="#d6d6d6"/>
<polygon points="357.40,86.80 354.80,88.30 352.20,86.80 352.20,83.80 354.80,82.30 357.40,83.80" fill="#fafafa"/>
<circle cx="354.80" cy="85.30" r="1.5" fill="#d6d6d6"/>
<polygon points="364.00,86.80 361.40,88.30 358.80,86.80 358.80,83.80 361.40,82.30 364.00,83.80" fill="#fafafa"/>
<circle cx="361.40" cy="85.30" r="1.5" fill="#d6d6d6"/>
<polygon points="370.60,86.80 368.00,88.30 365.40,86.80 365.40,83.80 368.00,82.30 370.60,83.80" fill="#fafafa"/>
<circle cx="368.00" cy="85.30" r="1.5" fill="#d6d6d6"/>
<polygon points="377.20,86.80 374.60,88.30 372.00,86.80 372.00,83.80 374.60,82.30 377.20,83.80" fill="#fafafa"/>
<circle cx="374.60" cy="85.30" r="1.5" fill="#d6d6d6"/>
<polygon points="383.80,86.80 381.20,88.30 378.60,86.80 378.60,83.80 381.20,82.30 383.80,83.80" fill="#fafafa"/>
<circle cx="381.20" cy="85.30" r="1.5" fill="#d6d6d6"/>
<polygon points="390.40,86.80 387.80,88.30 385.20,86.80 385.20,83.80 387.80,82.30 390.40,83.80" fill="#fafafa"/>
<circle cx="387.80" cy="85.30" r="1.5" fill="#d6d6d6"/>
<polygon points="397.00,86.80 394.40,88.30 391.80,86.80 391.80,83.80 394.40,82.30 397.00,83.80" fill="#fafafa"/>
<circle cx="394.40" cy="85.30" r="1.5" fill="#d6d6d6"/>
<polygon points="403.60,86.80 401.00,88.30 398.40,86.80 398.40,83.80 401.00,82.30 403.60,83.80" fill="#fafafa"/>
<circle cx="401.00" cy="85.30" r="1.5" fill="#d6d6d6"/>
<polygon points="410.20,86.80 407.60,88.30 405.00,86.80 405.00,83.80 407.60,82.30 410.20,83.80" fill="#fafafa"/>
<circle cx="407.60" cy="85.30" r="1.5" fill="#d6d6d6"/>
<polygon points="416.80,86.80 414.20,88.30 411.60,86.80 411.60,83.80 414.20,82.30 416.80,83.80" fill="#fafafa"/>
<circle cx="414.20" cy="85.30" r="1.5" fill="#d6d6d6"/>
<polygon points="423.40,86.80 420.80,88.30 418.20,86.80 418.20,83.80 420.80,82.30 423.40,83.80" fill="#fafafa"/>
<circle cx="420.80" cy="85.30" r="1.5" fill="#d6d6d6"/>
<polygon points="430.00,86.80 427.40,88.30 424.80,86.80 424.80,83.80 427.40,82.30 430.00,83.80" fill="#fafafa"/>
<circle cx="427.40" cy="85.30" r="1.5" fill="#d6d6d6"/>
</g>
<rect x="475.7" y="51.0" width="112.59999999999997" height="37.7" fill="#ececec" stroke="#555" stroke-width="1"/>
<rect x="481.2" y="53.2" width="101.59999999999997" height="33.0" fill="#0d0d0d"/>
<ellipse cx="477.59999999999997" cy="59.2" rx="1.4" ry="1.15" fill="#1a1a1a"/>
<ellipse cx="477.59999999999997" cy="81.7" rx="1.4" ry="1.15" fill="#1a1a1a"/>
<ellipse cx="586.4" cy="59.2" rx="1.4" ry="1.15" fill="#1a1a1a"/>
<ellipse cx="586.4" cy="81.7" rx="1.4" ry="1.15" fill="#1a1a1a"/>
<clipPath id="gc475"><rect x="482.0" y="54.0" width="99.99999999999997" height="31.4"/></clipPath>
<g clip-path="url(#gc475)">
<polygon points="484.40,58.80 481.80,60.30 479.20,58.80 479.20,55.80 481.80,54.30 484.40,55.80" fill="#fafafa"/>
<circle cx="481.80" cy="57.30" r="1.5" fill="#d6d6d6"/>
<polygon points="491.00,58.80 488.40,60.30 485.80,58.80 485.80,55.80 488.40,54.30 491.00,55.80" fill="#fafafa"/>
<circle cx="488.40" cy="57.30" r="1.5" fill="#d6d6d6"/>
<polygon points="497.60,58.80 495.00,60.30 492.40,58.80 492.40,55.80 495.00,54.30 497.60,55.80" fill="#fafafa"/>
<circle cx="495.00" cy="57.30" r="1.5" fill="#d6d6d6"/>
<polygon points="504.20,58.80 501.60,60.30 499.00,58.80 499.00,55.80 501.60,54.30 504.20,55.80" fill="#fafafa"/>
<circle cx="501.60" cy="57.30" r="1.5" fill="#d6d6d6"/>
<polygon points="510.80,58.80 508.20,60.30 505.60,58.80 505.60,55.80 508.20,54.30 510.80,55.80" fill="#fafafa"/>
<circle cx="508.20" cy="57.30" r="1.5" fill="#d6d6d6"/>
<polygon points="517.40,58.80 514.80,60.30 512.20,58.80 512.20,55.80 514.80,54.30 517.40,55.80" fill="#fafafa"/>
<circle cx="514.80" cy="57.30" r="1.5" fill="#d6d6d6"/>
<polygon points="524.00,58.80 521.40,60.30 518.80,58.80 518.80,55.80 521.40,54.30 524.00,55.80" fill="#fafafa"/>
<circle cx="521.40" cy="57.30" r="1.5" fill="#d6d6d6"/>
<polygon points="530.60,58.80 528.00,60.30 525.40,58.80 525.40,55.80 528.00,54.30 530.60,55.80" fill="#fafafa"/>
<circle cx="528.00" cy="57.30" r="1.5" fill="#d6d6d6"/>
<polygon points="537.20,58.80 534.60,60.30 532.00,58.80 532.00,55.80 534.60,54.30 537.20,55.80" fill="#fafafa"/>
<circle cx="534.60" cy="57.30" r="1.5" fill="#d6d6d6"/>
<polygon points="543.80,58.80 541.20,60.30 538.60,58.80 538.60,55.80 541.20,54.30 543.80,55.80" fill="#fafafa"/>
<circle cx="541.20" cy="57.30" r="1.5" fill="#d6d6d6"/>
<polygon points="550.40,58.80 547.80,60.30 545.20,58.80 545.20,55.80 547.80,54.30 550.40,55.80" fill="#fafafa"/>
<circle cx="547.80" cy="57.30" r="1.5" fill="#d6d6d6"/>
<polygon points="557.00,58.80 554.40,60.30 551.80,58.80 551.80,55.80 554.40,54.30 557.00,55.80" fill="#fafafa"/>
<circle cx="554.40" cy="57.30" r="1.5" fill="#d6d6d6"/>
<polygon points="563.60,58.80 561.00,60.30 558.40,58.80 558.40,55.80 561.00,54.30 563.60,55.80" fill="#fafafa"/>
<circle cx="561.00" cy="57.30" r="1.5" fill="#d6d6d6"/>
<polygon points="570.20,58.80 567.60,60.30 565.00,58.80 565.00,55.80 567.60,54.30 570.20,55.80" fill="#fafafa"/>
<circle cx="567.60" cy="57.30" r="1.5" fill="#d6d6d6"/>
<polygon points="576.80,58.80 574.20,60.30 571.60,58.80 571.60,55.80 574.20,54.30 576.80,55.80" fill="#fafafa"/>
<circle cx="574.20" cy="57.30" r="1.5" fill="#d6d6d6"/>
<polygon points="583.40,58.80 580.80,60.30 578.20,58.80 578.20,55.80 580.80,54.30 583.40,55.80" fill="#fafafa"/>
<circle cx="580.80" cy="57.30" r="1.5" fill="#d6d6d6"/>
<polygon points="481.10,64.40 478.50,65.90 475.90,64.40 475.90,61.40 478.50,59.90 481.10,61.40" fill="#fafafa"/>
<circle cx="478.50" cy="62.90" r="1.5" fill="#d6d6d6"/>
<polygon points="487.70,64.40 485.10,65.90 482.50,64.40 482.50,61.40 485.10,59.90 487.70,61.40" fill="#fafafa"/>
<circle cx="485.10" cy="62.90" r="1.5" fill="#d6d6d6"/>
<polygon points="494.30,64.40 491.70,65.90 489.10,64.40 489.10,61.40 491.70,59.90 494.30,61.40" fill="#fafafa"/>
<circle cx="491.70" cy="62.90" r="1.5" fill="#d6d6d6"/>
<polygon points="500.90,64.40 498.30,65.90 495.70,64.40 495.70,61.40 498.30,59.90 500.90,61.40" fill="#fafafa"/>
<circle cx="498.30" cy="62.90" r="1.5" fill="#d6d6d6"/>
<polygon points="507.50,64.40 504.90,65.90 502.30,64.40 502.30,61.40 504.90,59.90 507.50,61.40" fill="#fafafa"/>
<circle cx="504.90" cy="62.90" r="1.5" fill="#d6d6d6"/>
<polygon points="514.10,64.40 511.50,65.90 508.90,64.40 508.90,61.40 511.50,59.90 514.10,61.40" fill="#fafafa"/>
<circle cx="511.50" cy="62.90" r="1.5" fill="#d6d6d6"/>
<polygon points="520.70,64.40 518.10,65.90 515.50,64.40 515.50,61.40 518.10,59.90 520.70,61.40" fill="#fafafa"/>
<circle cx="518.10" cy="62.90" r="1.5" fill="#d6d6d6"/>
<polygon points="527.30,64.40 524.70,65.90 522.10,64.40 522.10,61.40 524.70,59.90 527.30,61.40" fill="#fafafa"/>
<circle cx="524.70" cy="62.90" r="1.5" fill="#d6d6d6"/>
<polygon points="533.90,64.40 531.30,65.90 528.70,64.40 528.70,61.40 531.30,59.90 533.90,61.40" fill="#fafafa"/>
<circle cx="531.30" cy="62.90" r="1.5" fill="#d6d6d6"/>
<polygon points="540.50,64.40 537.90,65.90 535.30,64.40 535.30,61.40 537.90,59.90 540.50,61.40" fill="#fafafa"/>
<circle cx="537.90" cy="62.90" r="1.5" fill="#d6d6d6"/>
<polygon points="547.10,64.40 544.50,65.90 541.90,64.40 541.90,61.40 544.50,59.90 547.10,61.40" fill="#fafafa"/>
<circle cx="544.50" cy="62.90" r="1.5" fill="#d6d6d6"/>
<polygon points="553.70,64.40 551.10,65.90 548.50,64.40 548.50,61.40 551.10,59.90 553.70,61.40" fill="#fafafa"/>
<circle cx="551.10" cy="62.90" r="1.5" fill="#d6d6d6"/>
<polygon points="560.30,64.40 557.70,65.90 555.10,64.40 555.10,61.40 557.70,59.90 560.30,61.40" fill="#fafafa"/>
<circle cx="557.70" cy="62.90" r="1.5" fill="#d6d6d6"/>
<polygon points="566.90,64.40 564.30,65.90 561.70,64.40 561.70,61.40 564.30,59.90 566.90,61.40" fill="#fafafa"/>
<circle cx="564.30" cy="62.90" r="1.5" fill="#d6d6d6"/>
<polygon points="573.50,64.40 570.90,65.90 568.30,64.40 568.30,61.40 570.90,59.90 573.50,61.40" fill="#fafafa"/>
<circle cx="570.90" cy="62.90" r="1.5" fill="#d6d6d6"/>
<polygon points="580.10,64.40 577.50,65.90 574.90,64.40 574.90,61.40 577.50,59.90 580.10,61.40" fill="#fafafa"/>
<circle cx="577.50" cy="62.90" r="1.5" fill="#d6d6d6"/>
<polygon points="586.70,64.40 584.10,65.90 581.50,64.40 581.50,61.40 584.10,59.90 586.70,61.40" fill="#fafafa"/>
<circle cx="584.10" cy="62.90" r="1.5" fill="#d6d6d6"/>
<polygon points="484.40,70.00 481.80,71.50 479.20,70.00 479.20,67.00 481.80,65.50 484.40,67.00" fill="#fafafa"/>
<circle cx="481.80" cy="68.50" r="1.5" fill="#d6d6d6"/>
<polygon points="491.00,70.00 488.40,71.50 485.80,70.00 485.80,67.00 488.40,65.50 491.00,67.00" fill="#fafafa"/>
<circle cx="488.40" cy="68.50" r="1.5" fill="#d6d6d6"/>
<polygon points="497.60,70.00 495.00,71.50 492.40,70.00 492.40,67.00 495.00,65.50 497.60,67.00" fill="#fafafa"/>
<circle cx="495.00" cy="68.50" r="1.5" fill="#d6d6d6"/>
<polygon points="504.20,70.00 501.60,71.50 499.00,70.00 499.00,67.00 501.60,65.50 504.20,67.00" fill="#fafafa"/>
<circle cx="501.60" cy="68.50" r="1.5" fill="#d6d6d6"/>
<polygon points="510.80,70.00 508.20,71.50 505.60,70.00 505.60,67.00 508.20,65.50 510.80,67.00" fill="#fafafa"/>
<circle cx="508.20" cy="68.50" r="1.5" fill="#d6d6d6"/>
<polygon points="517.40,70.00 514.80,71.50 512.20,70.00 512.20,67.00 514.80,65.50 517.40,67.00" fill="#fafafa"/>
<circle cx="514.80" cy="68.50" r="1.5" fill="#d6d6d6"/>
<polygon points="524.00,70.00 521.40,71.50 518.80,70.00 518.80,67.00 521.40,65.50 524.00,67.00" fill="#fafafa"/>
<circle cx="521.40" cy="68.50" r="1.5" fill="#d6d6d6"/>
<polygon points="530.60,70.00 528.00,71.50 525.40,70.00 525.40,67.00 528.00,65.50 530.60,67.00" fill="#fafafa"/>
<circle cx="528.00" cy="68.50" r="1.5" fill="#d6d6d6"/>
<polygon points="537.20,70.00 534.60,71.50 532.00,70.00 532.00,67.00 534.60,65.50 537.20,67.00" fill="#fafafa"/>
<circle cx="534.60" cy="68.50" r="1.5" fill="#d6d6d6"/>
<polygon points="543.80,70.00 541.20,71.50 538.60,70.00 538.60,67.00 541.20,65.50 543.80,67.00" fill="#fafafa"/>
<circle cx="541.20" cy="68.50" r="1.5" fill="#d6d6d6"/>
<polygon points="550.40,70.00 547.80,71.50 545.20,70.00 545.20,67.00 547.80,65.50 550.40,67.00" fill="#fafafa"/>
<circle cx="547.80" cy="68.50" r="1.5" fill="#d6d6d6"/>
<polygon points="557.00,70.00 554.40,71.50 551.80,70.00 551.80,67.00 554.40,65.50 557.00,67.00" fill="#fafafa"/>
<circle cx="554.40" cy="68.50" r="1.5" fill="#d6d6d6"/>
<polygon points="563.60,70.00 561.00,71.50 558.40,70.00 558.40,67.00 561.00,65.50 563.60,67.00" fill="#fafafa"/>
<circle cx="561.00" cy="68.50" r="1.5" fill="#d6d6d6"/>
<polygon points="570.20,70.00 567.60,71.50 565.00,70.00 565.00,67.00 567.60,65.50 570.20,67.00" fill="#fafafa"/>
<circle cx="567.60" cy="68.50" r="1.5" fill="#d6d6d6"/>
<polygon points="576.80,70.00 574.20,71.50 571.60,70.00 571.60,67.00 574.20,65.50 576.80,67.00" fill="#fafafa"/>
<circle cx="574.20" cy="68.50" r="1.5" fill="#d6d6d6"/>
<polygon points="583.40,70.00 580.80,71.50 578.20,70.00 578.20,67.00 580.80,65.50 583.40,67.00" fill="#fafafa"/>
<circle cx="580.80" cy="68.50" r="1.5" fill="#d6d6d6"/>
<polygon points="481.10,75.60 478.50,77.10 475.90,75.60 475.90,72.60 478.50,71.10 481.10,72.60" fill="#fafafa"/>
<circle cx="478.50" cy="74.10" r="1.5" fill="#d6d6d6"/>
<polygon points="487.70,75.60 485.10,77.10 482.50,75.60 482.50,72.60 485.10,71.10 487.70,72.60" fill="#fafafa"/>
<circle cx="485.10" cy="74.10" r="1.5" fill="#d6d6d6"/>
<polygon points="494.30,75.60 491.70,77.10 489.10,75.60 489.10,72.60 491.70,71.10 494.30,72.60" fill="#fafafa"/>
<circle cx="491.70" cy="74.10" r="1.5" fill="#d6d6d6"/>
<polygon points="500.90,75.60 498.30,77.10 495.70,75.60 495.70,72.60 498.30,71.10 500.90,72.60" fill="#fafafa"/>
<circle cx="498.30" cy="74.10" r="1.5" fill="#d6d6d6"/>
<polygon points="507.50,75.60 504.90,77.10 502.30,75.60 502.30,72.60 504.90,71.10 507.50,72.60" fill="#fafafa"/>
<circle cx="504.90" cy="74.10" r="1.5" fill="#d6d6d6"/>
<polygon points="514.10,75.60 511.50,77.10 508.90,75.60 508.90,72.60 511.50,71.10 514.10,72.60" fill="#fafafa"/>
<circle cx="511.50" cy="74.10" r="1.5" fill="#d6d6d6"/>
<polygon points="520.70,75.60 518.10,77.10 515.50,75.60 515.50,72.60 518.10,71.10 520.70,72.60" fill="#fafafa"/>
<circle cx="518.10" cy="74.10" r="1.5" fill="#d6d6d6"/>
<polygon points="527.30,75.60 524.70,77.10 522.10,75.60 522.10,72.60 524.70,71.10 527.30,72.60" fill="#fafafa"/>
<circle cx="524.70" cy="74.10" r="1.5" fill="#d6d6d6"/>
<polygon points="533.90,75.60 531.30,77.10 528.70,75.60 528.70,72.60 531.30,71.10 533.90,72.60" fill="#fafafa"/>
<circle cx="531.30" cy="74.10" r="1.5" fill="#d6d6d6"/>
<polygon points="540.50,75.60 537.90,77.10 535.30,75.60 535.30,72.60 537.90,71.10 540.50,72.60" fill="#fafafa"/>
<circle cx="537.90" cy="74.10" r="1.5" fill="#d6d6d6"/>
<polygon points="547.10,75.60 544.50,77.10 541.90,75.60 541.90,72.60 544.50,71.10 547.10,72.60" fill="#fafafa"/>
<circle cx="544.50" cy="74.10" r="1.5" fill="#d6d6d6"/>
<polygon points="553.70,75.60 551.10,77.10 548.50,75.60 548.50,72.60 551.10,71.10 553.70,72.60" fill="#fafafa"/>
<circle cx="551.10" cy="74.10" r="1.5" fill="#d6d6d6"/>
<polygon points="560.30,75.60 557.70,77.10 555.10,75.60 555.10,72.60 557.70,71.10 560.30,72.60" fill="#fafafa"/>
<circle cx="557.70" cy="74.10" r="1.5" fill="#d6d6d6"/>
<polygon points="566.90,75.60 564.30,77.10 561.70,75.60 561.70,72.60 564.30,71.10 566.90,72.60" fill="#fafafa"/>
<circle cx="564.30" cy="74.10" r="1.5" fill="#d6d6d6"/>
<polygon points="573.50,75.60 570.90,77.10 568.30,75.60 568.30,72.60 570.90,71.10 573.50,72.60" fill="#fafafa"/>
<circle cx="570.90" cy="74.10" r="1.5" fill="#d6d6d6"/>
<polygon points="580.10,75.60 577.50,77.10 574.90,75.60 574.90,72.60 577.50,71.10 580.10,72.60" fill="#fafafa"/>
<circle cx="577.50" cy="74.10" r="1.5" fill="#d6d6d6"/>
<polygon points="586.70,75.60 584.10,77.10 581.50,75.60 581.50,72.60 584.10,71.10 586.70,72.60" fill="#fafafa"/>
<circle cx="584.10" cy="74.10" r="1.5" fill="#d6d6d6"/>
<polygon points="484.40,81.20 481.80,82.70 479.20,81.20 479.20,78.20 481.80,76.70 484.40,78.20" fill="#fafafa"/>
<circle cx="481.80" cy="79.70" r="1.5" fill="#d6d6d6"/>
<polygon points="491.00,81.20 488.40,82.70 485.80,81.20 485.80,78.20 488.40,76.70 491.00,78.20" fill="#fafafa"/>
<circle cx="488.40" cy="79.70" r="1.5" fill="#d6d6d6"/>
<polygon points="497.60,81.20 495.00,82.70 492.40,81.20 492.40,78.20 495.00,76.70 497.60,78.20" fill="#fafafa"/>
<circle cx="495.00" cy="79.70" r="1.5" fill="#d6d6d6"/>
<polygon points="504.20,81.20 501.60,82.70 499.00,81.20 499.00,78.20 501.60,76.70 504.20,78.20" fill="#fafafa"/>
<circle cx="501.60" cy="79.70" r="1.5" fill="#d6d6d6"/>
<polygon points="510.80,81.20 508.20,82.70 505.60,81.20 505.60,78.20 508.20,76.70 510.80,78.20" fill="#fafafa"/>
<circle cx="508.20" cy="79.70" r="1.5" fill="#d6d6d6"/>
<polygon points="517.40,81.20 514.80,82.70 512.20,81.20 512.20,78.20 514.80,76.70 517.40,78.20" fill="#fafafa"/>
<circle cx="514.80" cy="79.70" r="1.5" fill="#d6d6d6"/>
<polygon points="524.00,81.20 521.40,82.70 518.80,81.20 518.80,78.20 521.40,76.70 524.00,78.20" fill="#fafafa"/>
<circle cx="521.40" cy="79.70" r="1.5" fill="#d6d6d6"/>
<polygon points="530.60,81.20 528.00,82.70 525.40,81.20 525.40,78.20 528.00,76.70 530.60,78.20" fill="#fafafa"/>
<circle cx="528.00" cy="79.70" r="1.5" fill="#d6d6d6"/>
<polygon points="537.20,81.20 534.60,82.70 532.00,81.20 532.00,78.20 534.60,76.70 537.20,78.20" fill="#fafafa"/>
<circle cx="534.60" cy="79.70" r="1.5" fill="#d6d6d6"/>
<polygon points="543.80,81.20 541.20,82.70 538.60,81.20 538.60,78.20 541.20,76.70 543.80,78.20" fill="#fafafa"/>
<circle cx="541.20" cy="79.70" r="1.5" fill="#d6d6d6"/>
<polygon points="550.40,81.20 547.80,82.70 545.20,81.20 545.20,78.20 547.80,76.70 550.40,78.20" fill="#fafafa"/>
<circle cx="547.80" cy="79.70" r="1.5" fill="#d6d6d6"/>
<polygon points="557.00,81.20 554.40,82.70 551.80,81.20 551.80,78.20 554.40,76.70 557.00,78.20" fill="#fafafa"/>
<circle cx="554.40" cy="79.70" r="1.5" fill="#d6d6d6"/>
<polygon points="563.60,81.20 561.00,82.70 558.40,81.20 558.40,78.20 561.00,76.70 563.60,78.20" fill="#fafafa"/>
<circle cx="561.00" cy="79.70" r="1.5" fill="#d6d6d6"/>
<polygon points="570.20,81.20 567.60,82.70 565.00,81.20 565.00,78.20 567.60,76.70 570.20,78.20" fill="#fafafa"/>
<circle cx="567.60" cy="79.70" r="1.5" fill="#d6d6d6"/>
<polygon points="576.80,81.20 574.20,82.70 571.60,81.20 571.60,78.20 574.20,76.70 576.80,78.20" fill="#fafafa"/>
<circle cx="574.20" cy="79.70" r="1.5" fill="#d6d6d6"/>
<polygon points="583.40,81.20 580.80,82.70 578.20,81.20 578.20,78.20 580.80,76.70 583.40,78.20" fill="#fafafa"/>
<circle cx="580.80" cy="79.70" r="1.5" fill="#d6d6d6"/>
<polygon points="481.10,86.80 478.50,88.30 475.90,86.80 475.90,83.80 478.50,82.30 481.10,83.80" fill="#fafafa"/>
<circle cx="478.50" cy="85.30" r="1.5" fill="#d6d6d6"/>
<polygon points="487.70,86.80 485.10,88.30 482.50,86.80 482.50,83.80 485.10,82.30 487.70,83.80" fill="#fafafa"/>
<circle cx="485.10" cy="85.30" r="1.5" fill="#d6d6d6"/>
<polygon points="494.30,86.80 491.70,88.30 489.10,86.80 489.10,83.80 491.70,82.30 494.30,83.80" fill="#fafafa"/>
<circle cx="491.70" cy="85.30" r="1.5" fill="#d6d6d6"/>
<polygon points="500.90,86.80 498.30,88.30 495.70,86.80 495.70,83.80 498.30,82.30 500.90,83.80" fill="#fafafa"/>
<circle cx="498.30" cy="85.30" r="1.5" fill="#d6d6d6"/>
<polygon points="507.50,86.80 504.90,88.30 502.30,86.80 502.30,83.80 504.90,82.30 507.50,83.80" fill="#fafafa"/>
<circle cx="504.90" cy="85.30" r="1.5" fill="#d6d6d6"/>
<polygon points="514.10,86.80 511.50,88.30 508.90,86.80 508.90,83.80 511.50,82.30 514.10,83.80" fill="#fafafa"/>
<circle cx="511.50" cy="85.30" r="1.5" fill="#d6d6d6"/>
<polygon points="520.70,86.80 518.10,88.30 515.50,86.80 515.50,83.80 518.10,82.30 520.70,83.80" fill="#fafafa"/>
<circle cx="518.10" cy="85.30" r="1.5" fill="#d6d6d6"/>
<polygon points="527.30,86.80 524.70,88.30 522.10,86.80 522.10,83.80 524.70,82.30 527.30,83.80" fill="#fafafa"/>
<circle cx="524.70" cy="85.30" r="1.5" fill="#d6d6d6"/>
<polygon points="533.90,86.80 531.30,88.30 528.70,86.80 528.70,83.80 531.30,82.30 533.90,83.80" fill="#fafafa"/>
<circle cx="531.30" cy="85.30" r="1.5" fill="#d6d6d6"/>
<polygon points="540.50,86.80 537.90,88.30 535.30,86.80 535.30,83.80 537.90,82.30 540.50,83.80" fill="#fafafa"/>
<circle cx="537.90" cy="85.30" r="1.5" fill="#d6d6d6"/>
<polygon points="547.10,86.80 544.50,88.30 541.90,86.80 541.90,83.80 544.50,82.30 547.10,83.80" fill="#fafafa"/>
<circle cx="544.50" cy="85.30" r="1.5" fill="#d6d6d6"/>
<polygon points="553.70,86.80 551.10,88.30 548.50,86.80 548.50,83.80 551.10,82.30 553.70,83.80" fill="#fafafa"/>
<circle cx="551.10" cy="85.30" r="1.5" fill="#d6d6d6"/>
<polygon points="560.30,86.80 557.70,88.30 555.10,86.80 555.10,83.80 557.70,82.30 560.30,83.80" fill="#fafafa"/>
<circle cx="557.70" cy="85.30" r="1.5" fill="#d6d6d6"/>
<polygon points="566.90,86.80 564.30,88.30 561.70,86.80 561.70,83.80 564.30,82.30 566.90,83.80" fill="#fafafa"/>
<circle cx="564.30" cy="85.30" r="1.5" fill="#d6d6d6"/>
<polygon points="573.50,86.80 570.90,88.30 568.30,86.80 568.30,83.80 570.90,82.30 573.50,83.80" fill="#fafafa"/>
<circle cx="570.90" cy="85.30" r="1.5" fill="#d6d6d6"/>
<polygon points="580.10,86.80 577.50,88.30 574.90,86.80 574.90,83.80 577.50,82.30 580.10,83.80" fill="#fafafa"/>
<circle cx="577.50" cy="85.30" r="1.5" fill="#d6d6d6"/>
<polygon points="586.70,86.80 584.10,88.30 581.50,86.80 581.50,83.80 584.10,82.30 586.70,83.80" fill="#fafafa"/>
<circle cx="584.10" cy="85.30" r="1.5" fill="#d6d6d6"/>
</g>
<rect x="253.4" y="88.9" width="355.0" height="506.4" fill="#eeeeee" stroke="#4a4a4a" stroke-width="1.1"/>
<line x1="456.2" y1="88.9" x2="456.2" y2="595.3" stroke="#3a3a3a" stroke-width="1.1"/>
<rect x="257.6" y="93.6" width="194.2" height="498.0" fill="#d8d8d8" stroke="#2e2e2e" stroke-width="1.1"/>
<path d="M258.90000000000003,590.3000000000001 V94.89999999999999 H450.5" fill="none" stroke="#f2f2f2" stroke-width="0.9"/>
<rect x="460.6" y="93.6" width="143.79999999999995" height="498.0" fill="#d8d8d8" stroke="#2e2e2e" stroke-width="1.1"/>
<path d="M461.90000000000003,590.3000000000001 V94.89999999999999 H603.1" fill="none" stroke="#f2f2f2" stroke-width="0.9"/>
<rect x="412.8" y="93.6" width="38.5" height="12.400000000000006" rx="1.8" fill="#14e314"/>
<text x="417.8" y="100.19999999999999" font-size="5.8" font-weight="bold" font-style="italic" fill="#f4fff4" textLength="28.0" lengthAdjust="spacingAndGlyphs">Schneider</text>
<text x="426.8" y="104.19999999999999" font-size="3.4" fill="#d8ffd8" textLength="17.5" lengthAdjust="spacingAndGlyphs">Electric</text>
<ellipse cx="425.40000000000003" cy="103.0" rx="1.1" ry="1.7" transform="rotate(30 425.40000000000003 103.0)" fill="none" stroke="#e8ffe8" stroke-width="0.5"/>
<rect x="564.8" y="93.6" width="39.5" height="12.400000000000006" rx="1.8" fill="#14e314"/>
<text x="569.8" y="100.19999999999999" font-size="5.8" font-weight="bold" font-style="italic" fill="#f4fff4" textLength="29.0" lengthAdjust="spacingAndGlyphs">Schneider</text>
<text x="578.8" y="104.19999999999999" font-size="3.4" fill="#d8ffd8" textLength="18.5" lengthAdjust="spacingAndGlyphs">Electric</text>
<ellipse cx="577.4" cy="103.0" rx="1.1" ry="1.7" transform="rotate(30 577.4 103.0)" fill="none" stroke="#e8ffe8" stroke-width="0.5"/>
<path d="M291.0,113.1 Q321.8,107.60000000000001 352.6,113.1 Q353.8,113.3 353.8,114.8 L353.8,174.1 Q353.8,175.6 352.6,175.6 Q321.8,179.76 291.0,175.6 Q289.8,175.6 289.8,174.1 L289.8,114.8 Q289.8,113.3 291.0,113.1 Z" fill="#fbfbfb" stroke="#fff" stroke-width="2.4"/>
<path d="M291.0,113.1 Q321.8,107.60000000000001 352.6,113.1 Q353.8,113.3 353.8,114.8 L353.8,174.1 Q353.8,175.6 352.6,175.6 Q321.8,179.76 291.0,175.6 Q289.8,175.6 289.8,174.1 L289.8,114.8 Q289.8,113.3 291.0,113.1 Z" fill="#fbfbfb" stroke="#2a2a2a" stroke-width="1"/>
<rect x="292.3" y="115.5" width="59.0" height="59.099999999999994" fill="#393939"/>
<path d="M292.3,117.10H351.3M292.3,120.16H351.3M292.3,123.22H351.3M292.3,126.27H351.3M292.3,129.33H351.3M292.3,132.39H351.3M292.3,135.45H351.3M292.3,138.51H351.3M292.3,141.56H351.3M292.3,144.62H351.3M292.3,147.68H351.3M292.3,150.74H351.3M292.3,153.79H351.3M292.3,156.85H351.3M292.3,159.91H351.3M292.3,162.97H351.3M292.3,166.03H351.3M292.3,169.08H351.3M292.3,172.14H351.3" stroke="#000" stroke-width="0.95"/>
<path d="M292.90000000000003,118.40H350.7M292.90000000000003,121.46H350.7M292.90000000000003,124.52H350.7M292.90000000000003,127.57H350.7M292.90000000000003,130.63H350.7M292.90000000000003,133.69H350.7M292.90000000000003,136.75H350.7M292.90000000000003,139.81H350.7M292.90000000000003,142.86H350.7M292.90000000000003,145.92H350.7M292.90000000000003,148.98H350.7M292.90000000000003,152.04H350.7M292.90000000000003,155.09H350.7M292.90000000000003,158.15H350.7M292.90000000000003,161.21H350.7M292.90000000000003,164.27H350.7M292.90000000000003,167.33H350.7M292.90000000000003,170.38H350.7M292.90000000000003,173.44H350.7" stroke="#acacac" stroke-width="1.15"/>
<rect x="292.3" y="115.5" width="59.0" height="59.099999999999994" fill="none" stroke="#222" stroke-width="0.9"/>
<rect x="319.2" y="174.89999999999998" width="5.2" height="2.5" fill="#35c04e" stroke="#1f7a33" stroke-width="0.4"/>
<path d="M357.59999999999997,113.1 Q388.1,107.60000000000001 418.6,113.1 Q419.8,113.3 419.8,114.8 L419.8,174.1 Q419.8,175.6 418.6,175.6 Q388.1,179.76 357.59999999999997,175.6 Q356.4,175.6 356.4,174.1 L356.4,114.8 Q356.4,113.3 357.59999999999997,113.1 Z" fill="#fbfbfb" stroke="#fff" stroke-width="2.4"/>
<path d="M357.59999999999997,113.1 Q388.1,107.60000000000001 418.6,113.1 Q419.8,113.3 419.8,114.8 L419.8,174.1 Q419.8,175.6 418.6,175.6 Q388.1,179.76 357.59999999999997,175.6 Q356.4,175.6 356.4,174.1 L356.4,114.8 Q356.4,113.3 357.59999999999997,113.1 Z" fill="#fbfbfb" stroke="#2a2a2a" stroke-width="1"/>
<rect x="358.9" y="115.5" width="58.400000000000034" height="59.099999999999994" fill="#393939"/>
<path d="M358.9,117.10H417.3M358.9,120.16H417.3M358.9,123.22H417.3M358.9,126.27H417.3M358.9,129.33H417.3M358.9,132.39H417.3M358.9,135.45H417.3M358.9,138.51H417.3M358.9,141.56H417.3M358.9,144.62H417.3M358.9,147.68H417.3M358.9,150.74H417.3M358.9,153.79H417.3M358.9,156.85H417.3M358.9,159.91H417.3M358.9,162.97H417.3M358.9,166.03H417.3M358.9,169.08H417.3M358.9,172.14H417.3" stroke="#000" stroke-width="0.95"/>
<path d="M359.5,118.40H416.7M359.5,121.46H416.7M359.5,124.52H416.7M359.5,127.57H416.7M359.5,130.63H416.7M359.5,133.69H416.7M359.5,136.75H416.7M359.5,139.81H416.7M359.5,142.86H416.7M359.5,145.92H416.7M359.5,148.98H416.7M359.5,152.04H416.7M359.5,155.09H416.7M359.5,158.15H416.7M359.5,161.21H416.7M359.5,164.27H416.7M359.5,167.33H416.7M359.5,170.38H416.7M359.5,173.44H416.7" stroke="#acacac" stroke-width="1.15"/>
<rect x="358.9" y="115.5" width="58.400000000000034" height="59.099999999999994" fill="none" stroke="#222" stroke-width="0.9"/>
<rect x="385.5" y="174.89999999999998" width="5.2" height="2.5" fill="#35c04e" stroke="#1f7a33" stroke-width="0.4"/>
<path d="M501.4,113.1 Q532.4,107.60000000000001 563.4,113.1 Q564.6,113.3 564.6,114.8 L564.6,174.1 Q564.6,175.6 563.4,175.6 Q532.4,179.76 501.4,175.6 Q500.2,175.6 500.2,174.1 L500.2,114.8 Q500.2,113.3 501.4,113.1 Z" fill="#fbfbfb" stroke="#fff" stroke-width="2.4"/>
<path d="M501.4,113.1 Q532.4,107.60000000000001 563.4,113.1 Q564.6,113.3 564.6,114.8 L564.6,174.1 Q564.6,175.6 563.4,175.6 Q532.4,179.76 501.4,175.6 Q500.2,175.6 500.2,174.1 L500.2,114.8 Q500.2,113.3 501.4,113.1 Z" fill="#fbfbfb" stroke="#2a2a2a" stroke-width="1"/>
<rect x="502.7" y="115.5" width="59.400000000000034" height="59.099999999999994" fill="#393939"/>
<path d="M502.7,117.10H562.1M502.7,120.16H562.1M502.7,123.22H562.1M502.7,126.27H562.1M502.7,129.33H562.1M502.7,132.39H562.1M502.7,135.45H562.1M502.7,138.51H562.1M502.7,141.56H562.1M502.7,144.62H562.1M502.7,147.68H562.1M502.7,150.74H562.1M502.7,153.79H562.1M502.7,156.85H562.1M502.7,159.91H562.1M502.7,162.97H562.1M502.7,166.03H562.1M502.7,169.08H562.1M502.7,172.14H562.1" stroke="#000" stroke-width="0.95"/>
<path d="M503.3,118.40H561.5M503.3,121.46H561.5M503.3,124.52H561.5M503.3,127.57H561.5M503.3,130.63H561.5M503.3,133.69H561.5M503.3,136.75H561.5M503.3,139.81H561.5M503.3,142.86H561.5M503.3,145.92H561.5M503.3,148.98H561.5M503.3,152.04H561.5M503.3,155.09H561.5M503.3,158.15H561.5M503.3,161.21H561.5M503.3,164.27H561.5M503.3,167.33H561.5M503.3,170.38H561.5M503.3,173.44H561.5" stroke="#acacac" stroke-width="1.15"/>
<rect x="502.7" y="115.5" width="59.400000000000034" height="59.099999999999994" fill="none" stroke="#222" stroke-width="0.9"/>
<rect x="529.8" y="174.89999999999998" width="5.2" height="2.5" fill="#35c04e" stroke="#1f7a33" stroke-width="0.4"/>
<path d="M273.8,494.70000000000005 Q312.95000000000005,489.2 352.1,494.70000000000005 Q353.3,494.90000000000003 353.3,496.40000000000003 L353.3,572.9 Q353.3,574.4 352.1,574.4 Q312.95000000000005,578.56 273.8,574.4 Q272.6,574.4 272.6,572.9 L272.6,496.40000000000003 Q272.6,494.90000000000003 273.8,494.70000000000005 Z" fill="#fbfbfb" stroke="#fff" stroke-width="2.4"/>
<path d="M273.8,494.70000000000005 Q312.95000000000005,489.2 352.1,494.70000000000005 Q353.3,494.90000000000003 353.3,496.40000000000003 L353.3,572.9 Q353.3,574.4 352.1,574.4 Q312.95000000000005,578.56 273.8,574.4 Q272.6,574.4 272.6,572.9 L272.6,496.40000000000003 Q272.6,494.90000000000003 273.8,494.70000000000005 Z" fill="#fbfbfb" stroke="#2a2a2a" stroke-width="1"/>
<rect x="275.1" y="497.1" width="75.69999999999999" height="76.29999999999995" fill="#393939"/>
<path d="M275.1,498.70H350.8M275.1,501.71H350.8M275.1,504.72H350.8M275.1,507.74H350.8M275.1,510.75H350.8M275.1,513.76H350.8M275.1,516.77H350.8M275.1,519.78H350.8M275.1,522.80H350.8M275.1,525.81H350.8M275.1,528.82H350.8M275.1,531.83H350.8M275.1,534.84H350.8M275.1,537.86H350.8M275.1,540.87H350.8M275.1,543.88H350.8M275.1,546.89H350.8M275.1,549.90H350.8M275.1,552.92H350.8M275.1,555.93H350.8M275.1,558.94H350.8M275.1,561.95H350.8M275.1,564.96H350.8M275.1,567.98H350.8M275.1,570.99H350.8" stroke="#000" stroke-width="0.95"/>
<path d="M275.70000000000005,500.00H350.2M275.70000000000005,503.01H350.2M275.70000000000005,506.02H350.2M275.70000000000005,509.04H350.2M275.70000000000005,512.05H350.2M275.70000000000005,515.06H350.2M275.70000000000005,518.07H350.2M275.70000000000005,521.08H350.2M275.70000000000005,524.10H350.2M275.70000000000005,527.11H350.2M275.70000000000005,530.12H350.2M275.70000000000005,533.13H350.2M275.70000000000005,536.14H350.2M275.70000000000005,539.16H350.2M275.70000000000005,542.17H350.2M275.70000000000005,545.18H350.2M275.70000000000005,548.19H350.2M275.70000000000005,551.20H350.2M275.70000000000005,554.22H350.2M275.70000000000005,557.23H350.2M275.70000000000005,560.24H350.2M275.70000000000005,563.25H350.2M275.70000000000005,566.26H350.2M275.70000000000005,569.28H350.2M275.70000000000005,572.29H350.2" stroke="#acacac" stroke-width="1.15"/>
<rect x="275.1" y="497.1" width="75.69999999999999" height="76.29999999999995" fill="none" stroke="#222" stroke-width="0.9"/>
<rect x="310.35" y="573.7" width="5.2" height="2.5" fill="#35c04e" stroke="#1f7a33" stroke-width="0.4"/>
<path d="M356.9,494.70000000000005 Q396.4,489.2 435.90000000000003,494.70000000000005 Q437.1,494.90000000000003 437.1,496.40000000000003 L437.1,572.9 Q437.1,574.4 435.90000000000003,574.4 Q396.4,578.56 356.9,574.4 Q355.7,574.4 355.7,572.9 L355.7,496.40000000000003 Q355.7,494.90000000000003 356.9,494.70000000000005 Z" fill="#fbfbfb" stroke="#fff" stroke-width="2.4"/>
<path d="M356.9,494.70000000000005 Q396.4,489.2 435.90000000000003,494.70000000000005 Q437.1,494.90000000000003 437.1,496.40000000000003 L437.1,572.9 Q437.1,574.4 435.90000000000003,574.4 Q396.4,578.56 356.9,574.4 Q355.7,574.4 355.7,572.9 L355.7,496.40000000000003 Q355.7,494.90000000000003 356.9,494.70000000000005 Z" fill="#fbfbfb" stroke="#2a2a2a" stroke-width="1"/>
<rect x="358.2" y="497.1" width="76.40000000000003" height="76.29999999999995" fill="#393939"/>
<path d="M358.2,498.70H434.6M358.2,501.71H434.6M358.2,504.72H434.6M358.2,507.74H434.6M358.2,510.75H434.6M358.2,513.76H434.6M358.2,516.77H434.6M358.2,519.78H434.6M358.2,522.80H434.6M358.2,525.81H434.6M358.2,528.82H434.6M358.2,531.83H434.6M358.2,534.84H434.6M358.2,537.86H434.6M358.2,540.87H434.6M358.2,543.88H434.6M358.2,546.89H434.6M358.2,549.90H434.6M358.2,552.92H434.6M358.2,555.93H434.6M358.2,558.94H434.6M358.2,561.95H434.6M358.2,564.96H434.6M358.2,567.98H434.6M358.2,570.99H434.6" stroke="#000" stroke-width="0.95"/>
<path d="M358.8,500.00H434.0M358.8,503.01H434.0M358.8,506.02H434.0M358.8,509.04H434.0M358.8,512.05H434.0M358.8,515.06H434.0M358.8,518.07H434.0M358.8,521.08H434.0M358.8,524.10H434.0M358.8,527.11H434.0M358.8,530.12H434.0M358.8,533.13H434.0M358.8,536.14H434.0M358.8,539.16H434.0M358.8,542.17H434.0M358.8,545.18H434.0M358.8,548.19H434.0M358.8,551.20H434.0M358.8,554.22H434.0M358.8,557.23H434.0M358.8,560.24H434.0M358.8,563.25H434.0M358.8,566.26H434.0M358.8,569.28H434.0M358.8,572.29H434.0" stroke="#acacac" stroke-width="1.15"/>
<rect x="358.2" y="497.1" width="76.40000000000003" height="76.29999999999995" fill="none" stroke="#222" stroke-width="0.9"/>
<rect x="393.79999999999995" y="573.7" width="5.2" height="2.5" fill="#35c04e" stroke="#1f7a33" stroke-width="0.4"/>
<path d="M493.0,494.90000000000003 Q532.2,489.4 571.4,494.90000000000003 Q572.6,495.1 572.6,496.6 L572.6,573.3 Q572.6,574.8 571.4,574.8 Q532.2,578.9599999999999 493.0,574.8 Q491.8,574.8 491.8,573.3 L491.8,496.6 Q491.8,495.1 493.0,494.90000000000003 Z" fill="#fbfbfb" stroke="#fff" stroke-width="2.4"/>
<path d="M493.0,494.90000000000003 Q532.2,489.4 571.4,494.90000000000003 Q572.6,495.1 572.6,496.6 L572.6,573.3 Q572.6,574.8 571.4,574.8 Q532.2,578.9599999999999 493.0,574.8 Q491.8,574.8 491.8,573.3 L491.8,496.6 Q491.8,495.1 493.0,494.90000000000003 Z" fill="#fbfbfb" stroke="#2a2a2a" stroke-width="1"/>
<rect x="494.3" y="497.3" width="75.80000000000001" height="76.49999999999994" fill="#393939"/>
<path d="M494.3,498.90H570.1M494.3,501.92H570.1M494.3,504.94H570.1M494.3,507.96H570.1M494.3,510.98H570.1M494.3,514.00H570.1M494.3,517.02H570.1M494.3,520.04H570.1M494.3,523.06H570.1M494.3,526.08H570.1M494.3,529.10H570.1M494.3,532.12H570.1M494.3,535.14H570.1M494.3,538.16H570.1M494.3,541.18H570.1M494.3,544.20H570.1M494.3,547.22H570.1M494.3,550.24H570.1M494.3,553.26H570.1M494.3,556.28H570.1M494.3,559.30H570.1M494.3,562.32H570.1M494.3,565.34H570.1M494.3,568.36H570.1M494.3,571.38H570.1" stroke="#000" stroke-width="0.95"/>
<path d="M494.90000000000003,500.20H569.5M494.90000000000003,503.22H569.5M494.90000000000003,506.24H569.5M494.90000000000003,509.26H569.5M494.90000000000003,512.28H569.5M494.90000000000003,515.30H569.5M494.90000000000003,518.32H569.5M494.90000000000003,521.34H569.5M494.90000000000003,524.36H569.5M494.90000000000003,527.38H569.5M494.90000000000003,530.40H569.5M494.90000000000003,533.42H569.5M494.90000000000003,536.44H569.5M494.90000000000003,539.46H569.5M494.90000000000003,542.48H569.5M494.90000000000003,545.50H569.5M494.90000000000003,548.52H569.5M494.90000000000003,551.54H569.5M494.90000000000003,554.56H569.5M494.90000000000003,557.58H569.5M494.90000000000003,560.60H569.5M494.90000000000003,563.62H569.5M494.90000000000003,566.64H569.5M494.90000000000003,569.66H569.5M494.90000000000003,572.68H569.5" stroke="#acacac" stroke-width="1.15"/>
<rect x="494.3" y="497.3" width="75.80000000000001" height="76.49999999999994" fill="none" stroke="#222" stroke-width="0.9"/>
<rect x="529.6" y="574.1" width="5.2" height="2.5" fill="#35c04e" stroke="#1f7a33" stroke-width="0.4"/>
<rect x="257.6" y="307" width="9.0" height="70.69999999999999" rx="1" fill="#b0b0b0" stroke="#2e2e2e" stroke-width="0.9"/>
<rect x="258.1" y="307.5" width="8.0" height="13" fill="#a2a2a2"/>
<line x1="257.6" y1="320.5" x2="266.6" y2="320.5" stroke="#333" stroke-width="0.8"/>
<line x1="257.6" y1="358.5" x2="266.6" y2="358.5" stroke="#333" stroke-width="0.8"/>
<circle cx="262.1" cy="364" r="2.6" fill="#a4a4a4" stroke="#909090" stroke-width="0.6"/>
<rect x="260.6" y="368" width="3" height="1.6" fill="#999"/>
<rect x="461.2" y="307.4" width="8.100000000000023" height="70.20000000000005" rx="1" fill="#b0b0b0" stroke="#2e2e2e" stroke-width="0.9"/>
<rect x="461.7" y="307.9" width="7.100000000000023" height="13" fill="#a2a2a2"/>
<line x1="461.2" y1="320.9" x2="469.3" y2="320.9" stroke="#333" stroke-width="0.8"/>
<line x1="461.2" y1="358.9" x2="469.3" y2="358.9" stroke="#333" stroke-width="0.8"/>
<circle cx="465.25" cy="364.4" r="2.6" fill="#a4a4a4" stroke="#909090" stroke-width="0.6"/>
<rect x="463.75" y="368.4" width="3" height="1.6" fill="#999"/>
<rect x="267.2" y="309.2" width="24.6" height="20.5" fill="#fbfbfb"/>
<rect x="267.2" y="309.4" width="24.6" height="2.6" fill="#9a9a9a"/>
<rect x="275.2" y="309.59999999999997" width="9.5" height="2.2" fill="#1a1a1a"/>
<path d="M270.8,312.59999999999997 l2.2,4.2 h-4.4 z" fill="#bbb" stroke="#777" stroke-width="0.5"/>
<circle cx="270.8" cy="319.4" r="2" fill="#666"/>
<rect x="269.8" y="318.8" width="2" height="1.2" fill="#ccc"/>
<rect x="275.2" y="312.50" width="13.5" height="1.05" fill="#8a8a8a"/>
<rect x="275.2" y="314.25" width="12.5" height="1.05" fill="#8a8a8a"/>
<rect x="275.2" y="316.00" width="8" height="1.05" fill="#8a8a8a"/>
<rect x="275.2" y="317.75" width="13" height="1.05" fill="#8a8a8a"/>
<rect x="275.2" y="319.50" width="8" height="1.05" fill="#8a8a8a"/>
<rect x="275.2" y="321.25" width="13.5" height="1.05" fill="#8a8a8a"/>
<rect x="275.2" y="314.7" width="5.5" height="7" fill="#999" opacity="0.55"/>
<rect x="275.2" y="324.8" width="10.5" height="1.3" fill="#555"/>
<rect x="275.2" y="326.5" width="12.5" height="1.5" fill="#444"/>
<rect x="469.3" y="309.2" width="25" height="20.5" fill="#fbfbfb"/>
<rect x="469.3" y="309.4" width="25" height="2.6" fill="#9a9a9a"/>
<rect x="477.3" y="309.59999999999997" width="9.5" height="2.2" fill="#1a1a1a"/>
<path d="M472.90000000000003,312.59999999999997 l2.2,4.2 h-4.4 z" fill="#bbb" stroke="#777" stroke-width="0.5"/>
<circle cx="472.90000000000003" cy="319.4" r="2" fill="#666"/>
<rect x="471.90000000000003" y="318.8" width="2" height="1.2" fill="#ccc"/>
<rect x="477.3" y="312.50" width="13.5" height="1.05" fill="#8a8a8a"/>
<rect x="477.3" y="314.25" width="12.5" height="1.05" fill="#8a8a8a"/>
<rect x="477.3" y="316.00" width="8" height="1.05" fill="#8a8a8a"/>
<rect x="477.3" y="317.75" width="13" height="1.05" fill="#8a8a8a"/>
<rect x="477.3" y="319.50" width="8" height="1.05" fill="#8a8a8a"/>
<rect x="477.3" y="321.25" width="13.5" height="1.05" fill="#8a8a8a"/>
<rect x="477.3" y="314.7" width="5.5" height="7" fill="#999" opacity="0.55"/>
<rect x="477.3" y="324.8" width="10.5" height="1.3" fill="#555"/>
<rect x="477.3" y="326.5" width="12.5" height="1.5" fill="#444"/>
<rect x="267.2" y="330.8" width="24.6" height="20.5" fill="#fbfbfb"/>
<rect x="267.2" y="331.0" width="24.6" height="2.6" fill="#9a9a9a"/>
<rect x="275.2" y="331.2" width="9.5" height="2.2" fill="#1a1a1a"/>
<path d="M270.8,334.2 l2.2,4.2 h-4.4 z" fill="#bbb" stroke="#777" stroke-width="0.5"/>
<circle cx="270.8" cy="341.0" r="2" fill="#666"/>
<rect x="269.8" y="340.40000000000003" width="2" height="1.2" fill="#ccc"/>
<rect x="275.2" y="334.10" width="13.5" height="1.05" fill="#8a8a8a"/>
<rect x="275.2" y="335.85" width="12.5" height="1.05" fill="#8a8a8a"/>
<rect x="275.2" y="337.60" width="8" height="1.05" fill="#8a8a8a"/>
<rect x="275.2" y="339.35" width="13" height="1.05" fill="#8a8a8a"/>
<rect x="275.2" y="341.10" width="8" height="1.05" fill="#8a8a8a"/>
<rect x="275.2" y="342.85" width="13.5" height="1.05" fill="#8a8a8a"/>
<rect x="275.2" y="336.3" width="5.5" height="7" fill="#999" opacity="0.55"/>
<rect x="275.2" y="346.40000000000003" width="10.5" height="1.3" fill="#555"/>
<rect x="275.2" y="348.1" width="12.5" height="1.5" fill="#444"/>
<rect x="469.3" y="330.8" width="25" height="20.5" fill="#fbfbfb"/>
<rect x="469.3" y="331.0" width="25" height="2.6" fill="#9a9a9a"/>
<rect x="477.3" y="331.2" width="9.5" height="2.2" fill="#1a1a1a"/>
<path d="M472.90000000000003,334.2 l2.2,4.2 h-4.4 z" fill="#bbb" stroke="#777" stroke-width="0.5"/>
<circle cx="472.90000000000003" cy="341.0" r="2" fill="#666"/>
<rect x="471.90000000000003" y="340.40000000000003" width="2" height="1.2" fill="#ccc"/>
<rect x="477.3" y="334.10" width="13.5" height="1.05" fill="#8a8a8a"/>
<rect x="477.3" y="335.85" width="12.5" height="1.05" fill="#8a8a8a"/>
<rect x="477.3" y="337.60" width="8" height="1.05" fill="#8a8a8a"/>
<rect x="477.3" y="339.35" width="13" height="1.05" fill="#8a8a8a"/>
<rect x="477.3" y="341.10" width="8" height="1.05" fill="#8a8a8a"/>
<rect x="477.3" y="342.85" width="13.5" height="1.05" fill="#8a8a8a"/>
<rect x="477.3" y="336.3" width="5.5" height="7" fill="#999" opacity="0.55"/>
<rect x="477.3" y="346.40000000000003" width="10.5" height="1.3" fill="#555"/>
<rect x="477.3" y="348.1" width="12.5" height="1.5" fill="#444"/>
<rect x="267.2" y="354" width="24.6" height="20.5" fill="#fbfbfb"/>
<rect x="267.2" y="354.2" width="24.6" height="2.6" fill="#9a9a9a"/>
<rect x="275.2" y="354.4" width="9.5" height="2.2" fill="#1a1a1a"/>
<path d="M270.8,357.4 l2.2,4.2 h-4.4 z" fill="#bbb" stroke="#777" stroke-width="0.5"/>
<circle cx="270.8" cy="364.2" r="2" fill="#666"/>
<rect x="269.8" y="363.6" width="2" height="1.2" fill="#ccc"/>
<rect x="275.2" y="357.30" width="13.5" height="1.05" fill="#8a8a8a"/>
<rect x="275.2" y="359.05" width="12.5" height="1.05" fill="#8a8a8a"/>
<rect x="275.2" y="360.80" width="8" height="1.05" fill="#8a8a8a"/>
<rect x="275.2" y="362.55" width="13" height="1.05" fill="#8a8a8a"/>
<rect x="275.2" y="364.30" width="8" height="1.05" fill="#8a8a8a"/>
<rect x="275.2" y="366.05" width="13.5" height="1.05" fill="#8a8a8a"/>
<rect x="275.2" y="359.5" width="5.5" height="7" fill="#999" opacity="0.55"/>
<rect x="275.2" y="369.6" width="10.5" height="1.3" fill="#555"/>
<rect x="275.2" y="371.3" width="12.5" height="1.5" fill="#444"/>
<rect x="469.3" y="354" width="25" height="20.5" fill="#fbfbfb"/>
<rect x="469.3" y="354.2" width="25" height="2.6" fill="#9a9a9a"/>
<rect x="477.3" y="354.4" width="9.5" height="2.2" fill="#1a1a1a"/>
<path d="M472.90000000000003,357.4 l2.2,4.2 h-4.4 z" fill="#bbb" stroke="#777" stroke-width="0.5"/>
<circle cx="472.90000000000003" cy="364.2" r="2" fill="#666"/>
<rect x="471.90000000000003" y="363.6" width="2" height="1.2" fill="#ccc"/>
<rect x="477.3" y="357.30" width="13.5" height="1.05" fill="#8a8a8a"/>
<rect x="477.3" y="359.05" width="12.5" height="1.05" fill="#8a8a8a"/>
<rect x="477.3" y="360.80" width="8" height="1.05" fill="#8a8a8a"/>
<rect x="477.3" y="362.55" width="13" height="1.05" fill="#8a8a8a"/>
<rect x="477.3" y="364.30" width="8" height="1.05" fill="#8a8a8a"/>
<rect x="477.3" y="366.05" width="13.5" height="1.05" fill="#8a8a8a"/>
<rect x="477.3" y="359.5" width="5.5" height="7" fill="#999" opacity="0.55"/>
<rect x="477.3" y="369.6" width="10.5" height="1.3" fill="#555"/>
<rect x="477.3" y="371.3" width="12.5" height="1.5" fill="#444"/>
<rect x="310" y="431" width="16.5" height="13.5" fill="#8c8c8c"/>
<rect x="297.3" y="406.6" width="38.6" height="18.2" fill="#fbfbfb"/>
<rect x="297.3" y="406.6" width="38.6" height="1.5" fill="#9a9a9a"/>
<rect x="302" y="406.8" width="30" height="1.2" fill="#222"/>
<path d="M298.5,412 v12.5 M308.5,409 v15.5 M319,409 v15.5 M328,409 v15.5" stroke="#777" stroke-width="0.5"/>
<path d="M300.5,414.5 l1.5,2.6 h-3 z" fill="#555"/>
<rect x="309.5" y="409" width="7.5" height="1.1" fill="#999"/>
<rect x="309.5" y="411" width="6" height="1" fill="#aaa"/>
<rect x="309.5" y="414" width="7.5" height="1.4" fill="#444"/>
<rect x="309.5" y="416.4" width="6.5" height="1.2" fill="#666"/>
<rect x="309.5" y="418.6" width="5.5" height="1" fill="#888"/>
<rect x="320.0" y="409" width="7.5" height="1.1" fill="#999"/>
<rect x="320.0" y="411" width="6" height="1" fill="#aaa"/>
<rect x="320.0" y="414" width="7.5" height="1.4" fill="#444"/>
<rect x="320.0" y="416.4" width="6.5" height="1.2" fill="#666"/>
<rect x="320.0" y="418.6" width="5.5" height="1" fill="#888"/>
<rect x="329.0" y="409" width="7.5" height="1.1" fill="#999"/>
<rect x="329.0" y="411" width="6" height="1" fill="#aaa"/>
<rect x="329.0" y="414" width="7.5" height="1.4" fill="#444"/>
<rect x="329.0" y="416.4" width="6.5" height="1.2" fill="#666"/>
<rect x="329.0" y="418.6" width="5.5" height="1" fill="#888"/>
<rect x="301" y="414" width="7" height="1.4" fill="#444"/>
<rect x="306.8" y="424.8" width="6.1" height="5.8" fill="#2bd42f"/>
<line x1="299.5" y1="445" x2="333.8" y2="423.5" stroke="#9a9a9a" stroke-width="9.8" stroke-linecap="round"/>
<line x1="301.5" y1="443.4" x2="331.5" y2="424.6" stroke="#a3a3a3" stroke-width="4" stroke-linecap="round"/>
<circle cx="299.4" cy="445" r="4.9" fill="#939393"/>
<circle cx="333.8" cy="423.5" r="4.9" fill="#8f8f8f"/>
<rect x="516" y="226.5" width="33" height="44" fill="#1c3832"/>
<rect x="520.5" y="231.3" width="24.3" height="35.6" rx="3.2" fill="#1a2a22" stroke="#7ea58d" stroke-width="1.1"/>
<rect x="519.6" y="252" width="1.6" height="2" fill="#cfe0d6"/><rect x="544.2" y="252" width="1.6" height="2" fill="#cfe0d6"/>
<rect x="524.9" y="235.5" width="15.3" height="11.5" fill="#ececec"/>
<rect x="529" y="234.8" width="6" height="1.2" fill="#ddd"/>
<rect x="526" y="237.5" width="4" height="4.5" fill="#bbb"/><rect x="531" y="238.5" width="3.5" height="4" fill="#222"/><rect x="535.5" y="237.5" width="3.6" height="4.5" fill="#999"/>
<rect x="526" y="244" width="13" height="1" fill="#555"/>
<rect x="524.8" y="248.9" width="2.8" height="2.2" rx="0.5" fill="#050505"/>
<rect x="528.9" y="248.9" width="2.8" height="2.2" rx="0.5" fill="#050505"/>
<rect x="533.0" y="248.9" width="2.8" height="2.2" rx="0.5" fill="#050505"/>
<rect x="537.1" y="248.9" width="2.8" height="2.2" rx="0.5" fill="#050505"/>
<rect x="524.8" y="252.3" width="2.8" height="1.6" fill="#060606"/><rect x="537.1" y="252.3" width="2.8" height="1.6" fill="#060606"/>
<path d="M532.4,251.6 L537.2,256.6 L532.4,261.6 L527.6,256.6 Z" fill="#050505"/>
<path d="M532.4,255.2 L533.8,256.6 L532.4,258 L531,256.6 Z" fill="#ddd"/>
<circle cx="526" cy="260.8" r="2.2" fill="#e03a3a"/>
<circle cx="538.7" cy="260.8" r="2.2" fill="#3ad24e"/>
<rect x="516" y="270.4" width="33" height="13.4" fill="#f6f6f6"/>
<rect x="519.2" y="271.8" width="27" height="10.2" fill="#e2e2e2" stroke="#8a8a8a" stroke-width="0.6"/>
<rect x="520" y="272.2" width="15" height="1.6" fill="#444"/>
<path d="M520.5,275.5h8M520.5,277.5h8M520.5,279.5h8" stroke="#888" stroke-width="0.6"/>
<path d="M539.5,278 q2,-3 3,-1" stroke="#222" stroke-width="1" fill="none"/>
<rect x="541.5" y="274.5" width="3.5" height="5" fill="none" stroke="#777" stroke-width="0.5"/>
<line x1="253.5" y1="597" x2="253.5" y2="620" stroke="#ddd"/>
<line x1="456.3" y1="598" x2="456.3" y2="620" stroke="#ccc"/>
<line x1="608.3" y1="597" x2="608.3" y2="620" stroke="#ddd"/>
<line x1="253.5" y1="615.8" x2="456.3" y2="615.8" stroke="#bbb" stroke-width="1"/>
<path d="M253.5,615.8 L263.0,613.0999999999999 L263.0,618.5 Z" fill="#111"/>
<path d="M456.3,615.8 L446.8,613.0999999999999 L446.8,618.5 Z" fill="#111"/>
<text x="355" y="612" font-size="13.8" text-anchor="middle" fill="#111" stroke="#111" stroke-width="0.25">800</text>
<line x1="456.3" y1="615.8" x2="608.3" y2="615.8" stroke="#bbb" stroke-width="1"/>
<path d="M456.3,615.8 L465.8,613.0999999999999 L465.8,618.5 Z" fill="#111"/>
<path d="M608.3,615.8 L598.8,613.0999999999999 L598.8,618.5 Z" fill="#111"/>
<text x="533" y="612" font-size="13.8" text-anchor="middle" fill="#111" stroke="#111" stroke-width="0.25">600</text>
<text x="409.3" y="417" font-size="29" font-weight="bold" fill="#000" fill-opacity="0.055" textLength="182.5" lengthAdjust="spacingAndGlyphs">www.ple.vn</text>
<rect x="654.3" y="51.9" width="162.70000000000005" height="37.199999999999996" fill="#ececec" stroke="#555" stroke-width="1"/>
<rect x="659.8" y="54.1" width="151.70000000000005" height="32.49999999999999" fill="#0d0d0d"/>
<ellipse cx="656.1999999999999" cy="60.099999999999994" rx="1.4" ry="1.15" fill="#1a1a1a"/>
<ellipse cx="656.1999999999999" cy="82.1" rx="1.4" ry="1.15" fill="#1a1a1a"/>
<ellipse cx="815.1" cy="60.099999999999994" rx="1.4" ry="1.15" fill="#1a1a1a"/>
<ellipse cx="815.1" cy="82.1" rx="1.4" ry="1.15" fill="#1a1a1a"/>
<clipPath id="gc653"><rect x="660.5999999999999" y="54.9" width="150.10000000000005" height="30.89999999999999"/></clipPath>
<g clip-path="url(#gc653)">
<polygon points="663.00,59.70 660.40,61.20 657.80,59.70 657.80,56.70 660.40,55.20 663.00,56.70" fill="#fafafa"/>
<circle cx="660.40" cy="58.20" r="1.5" fill="#d6d6d6"/>
<polygon points="669.60,59.70 667.00,61.20 664.40,59.70 664.40,56.70 667.00,55.20 669.60,56.70" fill="#fafafa"/>
<circle cx="667.00" cy="58.20" r="1.5" fill="#d6d6d6"/>
<polygon points="676.20,59.70 673.60,61.20 671.00,59.70 671.00,56.70 673.60,55.20 676.20,56.70" fill="#fafafa"/>
<circle cx="673.60" cy="58.20" r="1.5" fill="#d6d6d6"/>
<polygon points="682.80,59.70 680.20,61.20 677.60,59.70 677.60,56.70 680.20,55.20 682.80,56.70" fill="#fafafa"/>
<circle cx="680.20" cy="58.20" r="1.5" fill="#d6d6d6"/>
<polygon points="689.40,59.70 686.80,61.20 684.20,59.70 684.20,56.70 686.80,55.20 689.40,56.70" fill="#fafafa"/>
<circle cx="686.80" cy="58.20" r="1.5" fill="#d6d6d6"/>
<polygon points="696.00,59.70 693.40,61.20 690.80,59.70 690.80,56.70 693.40,55.20 696.00,56.70" fill="#fafafa"/>
<circle cx="693.40" cy="58.20" r="1.5" fill="#d6d6d6"/>
<polygon points="702.60,59.70 700.00,61.20 697.40,59.70 697.40,56.70 700.00,55.20 702.60,56.70" fill="#fafafa"/>
<circle cx="700.00" cy="58.20" r="1.5" fill="#d6d6d6"/>
<polygon points="709.20,59.70 706.60,61.20 704.00,59.70 704.00,56.70 706.60,55.20 709.20,56.70" fill="#fafafa"/>
<circle cx="706.60" cy="58.20" r="1.5" fill="#d6d6d6"/>
<polygon points="715.80,59.70 713.20,61.20 710.60,59.70 710.60,56.70 713.20,55.20 715.80,56.70" fill="#fafafa"/>
<circle cx="713.20" cy="58.20" r="1.5" fill="#d6d6d6"/>
<polygon points="722.40,59.70 719.80,61.20 717.20,59.70 717.20,56.70 719.80,55.20 722.40,56.70" fill="#fafafa"/>
<circle cx="719.80" cy="58.20" r="1.5" fill="#d6d6d6"/>
<polygon points="729.00,59.70 726.40,61.20 723.80,59.70 723.80,56.70 726.40,55.20 729.00,56.70" fill="#fafafa"/>
<circle cx="726.40" cy="58.20" r="1.5" fill="#d6d6d6"/>
<polygon points="735.60,59.70 733.00,61.20 730.40,59.70 730.40,56.70 733.00,55.20 735.60,56.70" fill="#fafafa"/>
<circle cx="733.00" cy="58.20" r="1.5" fill="#d6d6d6"/>
<polygon points="742.20,59.70 739.60,61.20 737.00,59.70 737.00,56.70 739.60,55.20 742.20,56.70" fill="#fafafa"/>
<circle cx="739.60" cy="58.20" r="1.5" fill="#d6d6d6"/>
<polygon points="748.80,59.70 746.20,61.20 743.60,59.70 743.60,56.70 746.20,55.20 748.80,56.70" fill="#fafafa"/>
<circle cx="746.20" cy="58.20" r="1.5" fill="#d6d6d6"/>
<polygon points="755.40,59.70 752.80,61.20 750.20,59.70 750.20,56.70 752.80,55.20 755.40,56.70" fill="#fafafa"/>
<circle cx="752.80" cy="58.20" r="1.5" fill="#d6d6d6"/>
<polygon points="762.00,59.70 759.40,61.20 756.80,59.70 756.80,56.70 759.40,55.20 762.00,56.70" fill="#fafafa"/>
<circle cx="759.40" cy="58.20" r="1.5" fill="#d6d6d6"/>
<polygon points="768.60,59.70 766.00,61.20 763.40,59.70 763.40,56.70 766.00,55.20 768.60,56.70" fill="#fafafa"/>
<circle cx="766.00" cy="58.20" r="1.5" fill="#d6d6d6"/>
<polygon points="775.20,59.70 772.60,61.20 770.00,59.70 770.00,56.70 772.60,55.20 775.20,56.70" fill="#fafafa"/>
<circle cx="772.60" cy="58.20" r="1.5" fill="#d6d6d6"/>
<polygon points="781.80,59.70 779.20,61.20 776.60,59.70 776.60,56.70 779.20,55.20 781.80,56.70" fill="#fafafa"/>
<circle cx="779.20" cy="58.20" r="1.5" fill="#d6d6d6"/>
<polygon points="788.40,59.70 785.80,61.20 783.20,59.70 783.20,56.70 785.80,55.20 788.40,56.70" fill="#fafafa"/>
<circle cx="785.80" cy="58.20" r="1.5" fill="#d6d6d6"/>
<polygon points="795.00,59.70 792.40,61.20 789.80,59.70 789.80,56.70 792.40,55.20 795.00,56.70" fill="#fafafa"/>
<circle cx="792.40" cy="58.20" r="1.5" fill="#d6d6d6"/>
<polygon points="801.60,59.70 799.00,61.20 796.40,59.70 796.40,56.70 799.00,55.20 801.60,56.70" fill="#fafafa"/>
<circle cx="799.00" cy="58.20" r="1.5" fill="#d6d6d6"/>
<polygon points="808.20,59.70 805.60,61.20 803.00,59.70 803.00,56.70 805.60,55.20 808.20,56.70" fill="#fafafa"/>
<circle cx="805.60" cy="58.20" r="1.5" fill="#d6d6d6"/>
<polygon points="814.80,59.70 812.20,61.20 809.60,59.70 809.60,56.70 812.20,55.20 814.80,56.70" fill="#fafafa"/>
<circle cx="812.20" cy="58.20" r="1.5" fill="#d6d6d6"/>
<polygon points="659.70,65.30 657.10,66.80 654.50,65.30 654.50,62.30 657.10,60.80 659.70,62.30" fill="#fafafa"/>
<circle cx="657.10" cy="63.80" r="1.5" fill="#d6d6d6"/>
<polygon points="666.30,65.30 663.70,66.80 661.10,65.30 661.10,62.30 663.70,60.80 666.30,62.30" fill="#fafafa"/>
<circle cx="663.70" cy="63.80" r="1.5" fill="#d6d6d6"/>
<polygon points="672.90,65.30 670.30,66.80 667.70,65.30 667.70,62.30 670.30,60.80 672.90,62.30" fill="#fafafa"/>
<circle cx="670.30" cy="63.80" r="1.5" fill="#d6d6d6"/>
<polygon points="679.50,65.30 676.90,66.80 674.30,65.30 674.30,62.30 676.90,60.80 679.50,62.30" fill="#fafafa"/>
<circle cx="676.90" cy="63.80" r="1.5" fill="#d6d6d6"/>
<polygon points="686.10,65.30 683.50,66.80 680.90,65.30 680.90,62.30 683.50,60.80 686.10,62.30" fill="#fafafa"/>
<circle cx="683.50" cy="63.80" r="1.5" fill="#d6d6d6"/>
<polygon points="692.70,65.30 690.10,66.80 687.50,65.30 687.50,62.30 690.10,60.80 692.70,62.30" fill="#fafafa"/>
<circle cx="690.10" cy="63.80" r="1.5" fill="#d6d6d6"/>
<polygon points="699.30,65.30 696.70,66.80 694.10,65.30 694.10,62.30 696.70,60.80 699.30,62.30" fill="#fafafa"/>
<circle cx="696.70" cy="63.80" r="1.5" fill="#d6d6d6"/>
<polygon points="705.90,65.30 703.30,66.80 700.70,65.30 700.70,62.30 703.30,60.80 705.90,62.30" fill="#fafafa"/>
<circle cx="703.30" cy="63.80" r="1.5" fill="#d6d6d6"/>
<polygon points="712.50,65.30 709.90,66.80 707.30,65.30 707.30,62.30 709.90,60.80 712.50,62.30" fill="#fafafa"/>
<circle cx="709.90" cy="63.80" r="1.5" fill="#d6d6d6"/>
<polygon points="719.10,65.30 716.50,66.80 713.90,65.30 713.90,62.30 716.50,60.80 719.10,62.30" fill="#fafafa"/>
<circle cx="716.50" cy="63.80" r="1.5" fill="#d6d6d6"/>
<polygon points="725.70,65.30 723.10,66.80 720.50,65.30 720.50,62.30 723.10,60.80 725.70,62.30" fill="#fafafa"/>
<circle cx="723.10" cy="63.80" r="1.5" fill="#d6d6d6"/>
<polygon points="732.30,65.30 729.70,66.80 727.10,65.30 727.10,62.30 729.70,60.80 732.30,62.30" fill="#fafafa"/>
<circle cx="729.70" cy="63.80" r="1.5" fill="#d6d6d6"/>
<polygon points="738.90,65.30 736.30,66.80 733.70,65.30 733.70,62.30 736.30,60.80 738.90,62.30" fill="#fafafa"/>
<circle cx="736.30" cy="63.80" r="1.5" fill="#d6d6d6"/>
<polygon points="745.50,65.30 742.90,66.80 740.30,65.30 740.30,62.30 742.90,60.80 745.50,62.30" fill="#fafafa"/>
<circle cx="742.90" cy="63.80" r="1.5" fill="#d6d6d6"/>
<polygon points="752.10,65.30 749.50,66.80 746.90,65.30 746.90,62.30 749.50,60.80 752.10,62.30" fill="#fafafa"/>
<circle cx="749.50" cy="63.80" r="1.5" fill="#d6d6d6"/>
<polygon points="758.70,65.30 756.10,66.80 753.50,65.30 753.50,62.30 756.10,60.80 758.70,62.30" fill="#fafafa"/>
<circle cx="756.10" cy="63.80" r="1.5" fill="#d6d6d6"/>
<polygon points="765.30,65.30 762.70,66.80 760.10,65.30 760.10,62.30 762.70,60.80 765.30,62.30" fill="#fafafa"/>
<circle cx="762.70" cy="63.80" r="1.5" fill="#d6d6d6"/>
<polygon points="771.90,65.30 769.30,66.80 766.70,65.30 766.70,62.30 769.30,60.80 771.90,62.30" fill="#fafafa"/>
<circle cx="769.30" cy="63.80" r="1.5" fill="#d6d6d6"/>
<polygon points="778.50,65.30 775.90,66.80 773.30,65.30 773.30,62.30 775.90,60.80 778.50,62.30" fill="#fafafa"/>
<circle cx="775.90" cy="63.80" r="1.5" fill="#d6d6d6"/>
<polygon points="785.10,65.30 782.50,66.80 779.90,65.30 779.90,62.30 782.50,60.80 785.10,62.30" fill="#fafafa"/>
<circle cx="782.50" cy="63.80" r="1.5" fill="#d6d6d6"/>
<polygon points="791.70,65.30 789.10,66.80 786.50,65.30 786.50,62.30 789.10,60.80 791.70,62.30" fill="#fafafa"/>
<circle cx="789.10" cy="63.80" r="1.5" fill="#d6d6d6"/>
<polygon points="798.30,65.30 795.70,66.80 793.10,65.30 793.10,62.30 795.70,60.80 798.30,62.30" fill="#fafafa"/>
<circle cx="795.70" cy="63.80" r="1.5" fill="#d6d6d6"/>
<polygon points="804.90,65.30 802.30,66.80 799.70,65.30 799.70,62.30 802.30,60.80 804.90,62.30" fill="#fafafa"/>
<circle cx="802.30" cy="63.80" r="1.5" fill="#d6d6d6"/>
<polygon points="811.50,65.30 808.90,66.80 806.30,65.30 806.30,62.30 808.90,60.80 811.50,62.30" fill="#fafafa"/>
<circle cx="808.90" cy="63.80" r="1.5" fill="#d6d6d6"/>
<polygon points="663.00,70.90 660.40,72.40 657.80,70.90 657.80,67.90 660.40,66.40 663.00,67.90" fill="#fafafa"/>
<circle cx="660.40" cy="69.40" r="1.5" fill="#d6d6d6"/>
<polygon points="669.60,70.90 667.00,72.40 664.40,70.90 664.40,67.90 667.00,66.40 669.60,67.90" fill="#fafafa"/>
<circle cx="667.00" cy="69.40" r="1.5" fill="#d6d6d6"/>
<polygon points="676.20,70.90 673.60,72.40 671.00,70.90 671.00,67.90 673.60,66.40 676.20,67.90" fill="#fafafa"/>
<circle cx="673.60" cy="69.40" r="1.5" fill="#d6d6d6"/>
<polygon points="682.80,70.90 680.20,72.40 677.60,70.90 677.60,67.90 680.20,66.40 682.80,67.90" fill="#fafafa"/>
<circle cx="680.20" cy="69.40" r="1.5" fill="#d6d6d6"/>
<polygon points="689.40,70.90 686.80,72.40 684.20,70.90 684.20,67.90 686.80,66.40 689.40,67.90" fill="#fafafa"/>
<circle cx="686.80" cy="69.40" r="1.5" fill="#d6d6d6"/>
<polygon points="696.00,70.90 693.40,72.40 690.80,70.90 690.80,67.90 693.40,66.40 696.00,67.90" fill="#fafafa"/>
<circle cx="693.40" cy="69.40" r="1.5" fill="#d6d6d6"/>
<polygon points="702.60,70.90 700.00,72.40 697.40,70.90 697.40,67.90 700.00,66.40 702.60,67.90" fill="#fafafa"/>
<circle cx="700.00" cy="69.40" r="1.5" fill="#d6d6d6"/>
<polygon points="709.20,70.90 706.60,72.40 704.00,70.90 704.00,67.90 706.60,66.40 709.20,67.90" fill="#fafafa"/>
<circle cx="706.60" cy="69.40" r="1.5" fill="#d6d6d6"/>
<polygon points="715.80,70.90 713.20,72.40 710.60,70.90 710.60,67.90 713.20,66.40 715.80,67.90" fill="#fafafa"/>
<circle cx="713.20" cy="69.40" r="1.5" fill="#d6d6d6"/>
<polygon points="722.40,70.90 719.80,72.40 717.20,70.90 717.20,67.90 719.80,66.40 722.40,67.90" fill="#fafafa"/>
<circle cx="719.80" cy="69.40" r="1.5" fill="#d6d6d6"/>
<polygon points="729.00,70.90 726.40,72.40 723.80,70.90 723.80,67.90 726.40,66.40 729.00,67.90" fill="#fafafa"/>
<circle cx="726.40" cy="69.40" r="1.5" fill="#d6d6d6"/>
<polygon points="735.60,70.90 733.00,72.40 730.40,70.90 730.40,67.90 733.00,66.40 735.60,67.90" fill="#fafafa"/>
<circle cx="733.00" cy="69.40" r="1.5" fill="#d6d6d6"/>
<polygon points="742.20,70.90 739.60,72.40 737.00,70.90 737.00,67.90 739.60,66.40 742.20,67.90" fill="#fafafa"/>
<circle cx="739.60" cy="69.40" r="1.5" fill="#d6d6d6"/>
<polygon points="748.80,70.90 746.20,72.40 743.60,70.90 743.60,67.90 746.20,66.40 748.80,67.90" fill="#fafafa"/>
<circle cx="746.20" cy="69.40" r="1.5" fill="#d6d6d6"/>
<polygon points="755.40,70.90 752.80,72.40 750.20,70.90 750.20,67.90 752.80,66.40 755.40,67.90" fill="#fafafa"/>
<circle cx="752.80" cy="69.40" r="1.5" fill="#d6d6d6"/>
<polygon points="762.00,70.90 759.40,72.40 756.80,70.90 756.80,67.90 759.40,66.40 762.00,67.90" fill="#fafafa"/>
<circle cx="759.40" cy="69.40" r="1.5" fill="#d6d6d6"/>
<polygon points="768.60,70.90 766.00,72.40 763.40,70.90 763.40,67.90 766.00,66.40 768.60,67.90" fill="#fafafa"/>
<circle cx="766.00" cy="69.40" r="1.5" fill="#d6d6d6"/>
<polygon points="775.20,70.90 772.60,72.40 770.00,70.90 770.00,67.90 772.60,66.40 775.20,67.90" fill="#fafafa"/>
<circle cx="772.60" cy="69.40" r="1.5" fill="#d6d6d6"/>
<polygon points="781.80,70.90 779.20,72.40 776.60,70.90 776.60,67.90 779.20,66.40 781.80,67.90" fill="#fafafa"/>
<circle cx="779.20" cy="69.40" r="1.5" fill="#d6d6d6"/>
<polygon points="788.40,70.90 785.80,72.40 783.20,70.90 783.20,67.90 785.80,66.40 788.40,67.90" fill="#fafafa"/>
<circle cx="785.80" cy="69.40" r="1.5" fill="#d6d6d6"/>
<polygon points="795.00,70.90 792.40,72.40 789.80,70.90 789.80,67.90 792.40,66.40 795.00,67.90" fill="#fafafa"/>
<circle cx="792.40" cy="69.40" r="1.5" fill="#d6d6d6"/>
<polygon points="801.60,70.90 799.00,72.40 796.40,70.90 796.40,67.90 799.00,66.40 801.60,67.90" fill="#fafafa"/>
<circle cx="799.00" cy="69.40" r="1.5" fill="#d6d6d6"/>
<polygon points="808.20,70.90 805.60,72.40 803.00,70.90 803.00,67.90 805.60,66.40 808.20,67.90" fill="#fafafa"/>
<circle cx="805.60" cy="69.40" r="1.5" fill="#d6d6d6"/>
<polygon points="814.80,70.90 812.20,72.40 809.60,70.90 809.60,67.90 812.20,66.40 814.80,67.90" fill="#fafafa"/>
<circle cx="812.20" cy="69.40" r="1.5" fill="#d6d6d6"/>
<polygon points="659.70,76.50 657.10,78.00 654.50,76.50 654.50,73.50 657.10,72.00 659.70,73.50" fill="#fafafa"/>
<circle cx="657.10" cy="75.00" r="1.5" fill="#d6d6d6"/>
<polygon points="666.30,76.50 663.70,78.00 661.10,76.50 661.10,73.50 663.70,72.00 666.30,73.50" fill="#fafafa"/>
<circle cx="663.70" cy="75.00" r="1.5" fill="#d6d6d6"/>
<polygon points="672.90,76.50 670.30,78.00 667.70,76.50 667.70,73.50 670.30,72.00 672.90,73.50" fill="#fafafa"/>
<circle cx="670.30" cy="75.00" r="1.5" fill="#d6d6d6"/>
<polygon points="679.50,76.50 676.90,78.00 674.30,76.50 674.30,73.50 676.90,72.00 679.50,73.50" fill="#fafafa"/>
<circle cx="676.90" cy="75.00" r="1.5" fill="#d6d6d6"/>
<polygon points="686.10,76.50 683.50,78.00 680.90,76.50 680.90,73.50 683.50,72.00 686.10,73.50" fill="#fafafa"/>
<circle cx="683.50" cy="75.00" r="1.5" fill="#d6d6d6"/>
<polygon points="692.70,76.50 690.10,78.00 687.50,76.50 687.50,73.50 690.10,72.00 692.70,73.50" fill="#fafafa"/>
<circle cx="690.10" cy="75.00" r="1.5" fill="#d6d6d6"/>
<polygon points="699.30,76.50 696.70,78.00 694.10,76.50 694.10,73.50 696.70,72.00 699.30,73.50" fill="#fafafa"/>
<circle cx="696.70" cy="75.00" r="1.5" fill="#d6d6d6"/>
<polygon points="705.90,76.50 703.30,78.00 700.70,76.50 700.70,73.50 703.30,72.00 705.90,73.50" fill="#fafafa"/>
<circle cx="703.30" cy="75.00" r="1.5" fill="#d6d6d6"/>
<polygon points="712.50,76.50 709.90,78.00 707.30,76.50 707.30,73.50 709.90,72.00 712.50,73.50" fill="#fafafa"/>
<circle cx="709.90" cy="75.00" r="1.5" fill="#d6d6d6"/>
<polygon points="719.10,76.50 716.50,78.00 713.90,76.50 713.90,73.50 716.50,72.00 719.10,73.50" fill="#fafafa"/>
<circle cx="716.50" cy="75.00" r="1.5" fill="#d6d6d6"/>
<polygon points="725.70,76.50 723.10,78.00 720.50,76.50 720.50,73.50 723.10,72.00 725.70,73.50" fill="#fafafa"/>
<circle cx="723.10" cy="75.00" r="1.5" fill="#d6d6d6"/>
<polygon points="732.30,76.50 729.70,78.00 727.10,76.50 727.10,73.50 729.70,72.00 732.30,73.50" fill="#fafafa"/>
<circle cx="729.70" cy="75.00" r="1.5" fill="#d6d6d6"/>
<polygon points="738.90,76.50 736.30,78.00 733.70,76.50 733.70,73.50 736.30,72.00 738.90,73.50" fill="#fafafa"/>
<circle cx="736.30" cy="75.00" r="1.5" fill="#d6d6d6"/>
<polygon points="745.50,76.50 742.90,78.00 740.30,76.50 740.30,73.50 742.90,72.00 745.50,73.50" fill="#fafafa"/>
<circle cx="742.90" cy="75.00" r="1.5" fill="#d6d6d6"/>
<polygon points="752.10,76.50 749.50,78.00 746.90,76.50 746.90,73.50 749.50,72.00 752.10,73.50" fill="#fafafa"/>
<circle cx="749.50" cy="75.00" r="1.5" fill="#d6d6d6"/>
<polygon points="758.70,76.50 756.10,78.00 753.50,76.50 753.50,73.50 756.10,72.00 758.70,73.50" fill="#fafafa"/>
<circle cx="756.10" cy="75.00" r="1.5" fill="#d6d6d6"/>
<polygon points="765.30,76.50 762.70,78.00 760.10,76.50 760.10,73.50 762.70,72.00 765.30,73.50" fill="#fafafa"/>
<circle cx="762.70" cy="75.00" r="1.5" fill="#d6d6d6"/>
<polygon points="771.90,76.50 769.30,78.00 766.70,76.50 766.70,73.50 769.30,72.00 771.90,73.50" fill="#fafafa"/>
<circle cx="769.30" cy="75.00" r="1.5" fill="#d6d6d6"/>
<polygon points="778.50,76.50 775.90,78.00 773.30,76.50 773.30,73.50 775.90,72.00 778.50,73.50" fill="#fafafa"/>
<circle cx="775.90" cy="75.00" r="1.5" fill="#d6d6d6"/>
<polygon points="785.10,76.50 782.50,78.00 779.90,76.50 779.90,73.50 782.50,72.00 785.10,73.50" fill="#fafafa"/>
<circle cx="782.50" cy="75.00" r="1.5" fill="#d6d6d6"/>
<polygon points="791.70,76.50 789.10,78.00 786.50,76.50 786.50,73.50 789.10,72.00 791.70,73.50" fill="#fafafa"/>
<circle cx="789.10" cy="75.00" r="1.5" fill="#d6d6d6"/>
<polygon points="798.30,76.50 795.70,78.00 793.10,76.50 793.10,73.50 795.70,72.00 798.30,73.50" fill="#fafafa"/>
<circle cx="795.70" cy="75.00" r="1.5" fill="#d6d6d6"/>
<polygon points="804.90,76.50 802.30,78.00 799.70,76.50 799.70,73.50 802.30,72.00 804.90,73.50" fill="#fafafa"/>
<circle cx="802.30" cy="75.00" r="1.5" fill="#d6d6d6"/>
<polygon points="811.50,76.50 808.90,78.00 806.30,76.50 806.30,73.50 808.90,72.00 811.50,73.50" fill="#fafafa"/>
<circle cx="808.90" cy="75.00" r="1.5" fill="#d6d6d6"/>
<polygon points="663.00,82.10 660.40,83.60 657.80,82.10 657.80,79.10 660.40,77.60 663.00,79.10" fill="#fafafa"/>
<circle cx="660.40" cy="80.60" r="1.5" fill="#d6d6d6"/>
<polygon points="669.60,82.10 667.00,83.60 664.40,82.10 664.40,79.10 667.00,77.60 669.60,79.10" fill="#fafafa"/>
<circle cx="667.00" cy="80.60" r="1.5" fill="#d6d6d6"/>
<polygon points="676.20,82.10 673.60,83.60 671.00,82.10 671.00,79.10 673.60,77.60 676.20,79.10" fill="#fafafa"/>
<circle cx="673.60" cy="80.60" r="1.5" fill="#d6d6d6"/>
<polygon points="682.80,82.10 680.20,83.60 677.60,82.10 677.60,79.10 680.20,77.60 682.80,79.10" fill="#fafafa"/>
<circle cx="680.20" cy="80.60" r="1.5" fill="#d6d6d6"/>
<polygon points="689.40,82.10 686.80,83.60 684.20,82.10 684.20,79.10 686.80,77.60 689.40,79.10" fill="#fafafa"/>
<circle cx="686.80" cy="80.60" r="1.5" fill="#d6d6d6"/>
<polygon points="696.00,82.10 693.40,83.60 690.80,82.10 690.80,79.10 693.40,77.60 696.00,79.10" fill="#fafafa"/>
<circle cx="693.40" cy="80.60" r="1.5" fill="#d6d6d6"/>
<polygon points="702.60,82.10 700.00,83.60 697.40,82.10 697.40,79.10 700.00,77.60 702.60,79.10" fill="#fafafa"/>
<circle cx="700.00" cy="80.60" r="1.5" fill="#d6d6d6"/>
<polygon points="709.20,82.10 706.60,83.60 704.00,82.10 704.00,79.10 706.60,77.60 709.20,79.10" fill="#fafafa"/>
<circle cx="706.60" cy="80.60" r="1.5" fill="#d6d6d6"/>
<polygon points="715.80,82.10 713.20,83.60 710.60,82.10 710.60,79.10 713.20,77.60 715.80,79.10" fill="#fafafa"/>
<circle cx="713.20" cy="80.60" r="1.5" fill="#d6d6d6"/>
<polygon points="722.40,82.10 719.80,83.60 717.20,82.10 717.20,79.10 719.80,77.60 722.40,79.10" fill="#fafafa"/>
<circle cx="719.80" cy="80.60" r="1.5" fill="#d6d6d6"/>
<polygon points="729.00,82.10 726.40,83.60 723.80,82.10 723.80,79.10 726.40,77.60 729.00,79.10" fill="#fafafa"/>
<circle cx="726.40" cy="80.60" r="1.5" fill="#d6d6d6"/>
<polygon points="735.60,82.10 733.00,83.60 730.40,82.10 730.40,79.10 733.00,77.60 735.60,79.10" fill="#fafafa"/>
<circle cx="733.00" cy="80.60" r="1.5" fill="#d6d6d6"/>
<polygon points="742.20,82.10 739.60,83.60 737.00,82.10 737.00,79.10 739.60,77.60 742.20,79.10" fill="#fafafa"/>
<circle cx="739.60" cy="80.60" r="1.5" fill="#d6d6d6"/>
<polygon points="748.80,82.10 746.20,83.60 743.60,82.10 743.60,79.10 746.20,77.60 748.80,79.10" fill="#fafafa"/>
<circle cx="746.20" cy="80.60" r="1.5" fill="#d6d6d6"/>
<polygon points="755.40,82.10 752.80,83.60 750.20,82.10 750.20,79.10 752.80,77.60 755.40,79.10" fill="#fafafa"/>
<circle cx="752.80" cy="80.60" r="1.5" fill="#d6d6d6"/>
<polygon points="762.00,82.10 759.40,83.60 756.80,82.10 756.80,79.10 759.40,77.60 762.00,79.10" fill="#fafafa"/>
<circle cx="759.40" cy="80.60" r="1.5" fill="#d6d6d6"/>
<polygon points="768.60,82.10 766.00,83.60 763.40,82.10 763.40,79.10 766.00,77.60 768.60,79.10" fill="#fafafa"/>
<circle cx="766.00" cy="80.60" r="1.5" fill="#d6d6d6"/>
<polygon points="775.20,82.10 772.60,83.60 770.00,82.10 770.00,79.10 772.60,77.60 775.20,79.10" fill="#fafafa"/>
<circle cx="772.60" cy="80.60" r="1.5" fill="#d6d6d6"/>
<polygon points="781.80,82.10 779.20,83.60 776.60,82.10 776.60,79.10 779.20,77.60 781.80,79.10" fill="#fafafa"/>
<circle cx="779.20" cy="80.60" r="1.5" fill="#d6d6d6"/>
<polygon points="788.40,82.10 785.80,83.60 783.20,82.10 783.20,79.10 785.80,77.60 788.40,79.10" fill="#fafafa"/>
<circle cx="785.80" cy="80.60" r="1.5" fill="#d6d6d6"/>
<polygon points="795.00,82.10 792.40,83.60 789.80,82.10 789.80,79.10 792.40,77.60 795.00,79.10" fill="#fafafa"/>
<circle cx="792.40" cy="80.60" r="1.5" fill="#d6d6d6"/>
<polygon points="801.60,82.10 799.00,83.60 796.40,82.10 796.40,79.10 799.00,77.60 801.60,79.10" fill="#fafafa"/>
<circle cx="799.00" cy="80.60" r="1.5" fill="#d6d6d6"/>
<polygon points="808.20,82.10 805.60,83.60 803.00,82.10 803.00,79.10 805.60,77.60 808.20,79.10" fill="#fafafa"/>
<circle cx="805.60" cy="80.60" r="1.5" fill="#d6d6d6"/>
<polygon points="814.80,82.10 812.20,83.60 809.60,82.10 809.60,79.10 812.20,77.60 814.80,79.10" fill="#fafafa"/>
<circle cx="812.20" cy="80.60" r="1.5" fill="#d6d6d6"/>
<polygon points="659.70,87.70 657.10,89.20 654.50,87.70 654.50,84.70 657.10,83.20 659.70,84.70" fill="#fafafa"/>
<circle cx="657.10" cy="86.20" r="1.5" fill="#d6d6d6"/>
<polygon points="666.30,87.70 663.70,89.20 661.10,87.70 661.10,84.70 663.70,83.20 666.30,84.70" fill="#fafafa"/>
<circle cx="663.70" cy="86.20" r="1.5" fill="#d6d6d6"/>
<polygon points="672.90,87.70 670.30,89.20 667.70,87.70 667.70,84.70 670.30,83.20 672.90,84.70" fill="#fafafa"/>
<circle cx="670.30" cy="86.20" r="1.5" fill="#d6d6d6"/>
<polygon points="679.50,87.70 676.90,89.20 674.30,87.70 674.30,84.70 676.90,83.20 679.50,84.70" fill="#fafafa"/>
<circle cx="676.90" cy="86.20" r="1.5" fill="#d6d6d6"/>
<polygon points="686.10,87.70 683.50,89.20 680.90,87.70 680.90,84.70 683.50,83.20 686.10,84.70" fill="#fafafa"/>
<circle cx="683.50" cy="86.20" r="1.5" fill="#d6d6d6"/>
<polygon points="692.70,87.70 690.10,89.20 687.50,87.70 687.50,84.70 690.10,83.20 692.70,84.70" fill="#fafafa"/>
<circle cx="690.10" cy="86.20" r="1.5" fill="#d6d6d6"/>
<polygon points="699.30,87.70 696.70,89.20 694.10,87.70 694.10,84.70 696.70,83.20 699.30,84.70" fill="#fafafa"/>
<circle cx="696.70" cy="86.20" r="1.5" fill="#d6d6d6"/>
<polygon points="705.90,87.70 703.30,89.20 700.70,87.70 700.70,84.70 703.30,83.20 705.90,84.70" fill="#fafafa"/>
<circle cx="703.30" cy="86.20" r="1.5" fill="#d6d6d6"/>
<polygon points="712.50,87.70 709.90,89.20 707.30,87.70 707.30,84.70 709.90,83.20 712.50,84.70" fill="#fafafa"/>
<circle cx="709.90" cy="86.20" r="1.5" fill="#d6d6d6"/>
<polygon points="719.10,87.70 716.50,89.20 713.90,87.70 713.90,84.70 716.50,83.20 719.10,84.70" fill="#fafafa"/>
<circle cx="716.50" cy="86.20" r="1.5" fill="#d6d6d6"/>
<polygon points="725.70,87.70 723.10,89.20 720.50,87.70 720.50,84.70 723.10,83.20 725.70,84.70" fill="#fafafa"/>
<circle cx="723.10" cy="86.20" r="1.5" fill="#d6d6d6"/>
<polygon points="732.30,87.70 729.70,89.20 727.10,87.70 727.10,84.70 729.70,83.20 732.30,84.70" fill="#fafafa"/>
<circle cx="729.70" cy="86.20" r="1.5" fill="#d6d6d6"/>
<polygon points="738.90,87.70 736.30,89.20 733.70,87.70 733.70,84.70 736.30,83.20 738.90,84.70" fill="#fafafa"/>
<circle cx="736.30" cy="86.20" r="1.5" fill="#d6d6d6"/>
<polygon points="745.50,87.70 742.90,89.20 740.30,87.70 740.30,84.70 742.90,83.20 745.50,84.70" fill="#fafafa"/>
<circle cx="742.90" cy="86.20" r="1.5" fill="#d6d6d6"/>
<polygon points="752.10,87.70 749.50,89.20 746.90,87.70 746.90,84.70 749.50,83.20 752.10,84.70" fill="#fafafa"/>
<circle cx="749.50" cy="86.20" r="1.5" fill="#d6d6d6"/>
<polygon points="758.70,87.70 756.10,89.20 753.50,87.70 753.50,84.70 756.10,83.20 758.70,84.70" fill="#fafafa"/>
<circle cx="756.10" cy="86.20" r="1.5" fill="#d6d6d6"/>
<polygon points="765.30,87.70 762.70,89.20 760.10,87.70 760.10,84.70 762.70,83.20 765.30,84.70" fill="#fafafa"/>
<circle cx="762.70" cy="86.20" r="1.5" fill="#d6d6d6"/>
<polygon points="771.90,87.70 769.30,89.20 766.70,87.70 766.70,84.70 769.30,83.20 771.90,84.70" fill="#fafafa"/>
<circle cx="769.30" cy="86.20" r="1.5" fill="#d6d6d6"/>
<polygon points="778.50,87.70 775.90,89.20 773.30,87.70 773.30,84.70 775.90,83.20 778.50,84.70" fill="#fafafa"/>
<circle cx="775.90" cy="86.20" r="1.5" fill="#d6d6d6"/>
<polygon points="785.10,87.70 782.50,89.20 779.90,87.70 779.90,84.70 782.50,83.20 785.10,84.70" fill="#fafafa"/>
<circle cx="782.50" cy="86.20" r="1.5" fill="#d6d6d6"/>
<polygon points="791.70,87.70 789.10,89.20 786.50,87.70 786.50,84.70 789.10,83.20 791.70,84.70" fill="#fafafa"/>
<circle cx="789.10" cy="86.20" r="1.5" fill="#d6d6d6"/>
<polygon points="798.30,87.70 795.70,89.20 793.10,87.70 793.10,84.70 795.70,83.20 798.30,84.70" fill="#fafafa"/>
<circle cx="795.70" cy="86.20" r="1.5" fill="#d6d6d6"/>
<polygon points="804.90,87.70 802.30,89.20 799.70,87.70 799.70,84.70 802.30,83.20 804.90,84.70" fill="#fafafa"/>
<circle cx="802.30" cy="86.20" r="1.5" fill="#d6d6d6"/>
<polygon points="811.50,87.70 808.90,89.20 806.30,87.70 806.30,84.70 808.90,83.20 811.50,84.70" fill="#fafafa"/>
<circle cx="808.90" cy="86.20" r="1.5" fill="#d6d6d6"/>
</g>
<rect x="856.1" y="51.9" width="112.60000000000002" height="37.199999999999996" fill="#ececec" stroke="#555" stroke-width="1"/>
<rect x="861.6" y="54.1" width="101.60000000000002" height="32.49999999999999" fill="#0d0d0d"/>
<ellipse cx="858.0" cy="60.099999999999994" rx="1.4" ry="1.15" fill="#1a1a1a"/>
<ellipse cx="858.0" cy="82.1" rx="1.4" ry="1.15" fill="#1a1a1a"/>
<ellipse cx="966.8000000000001" cy="60.099999999999994" rx="1.4" ry="1.15" fill="#1a1a1a"/>
<ellipse cx="966.8000000000001" cy="82.1" rx="1.4" ry="1.15" fill="#1a1a1a"/>
<clipPath id="gc855"><rect x="862.4" y="54.9" width="100.00000000000003" height="30.89999999999999"/></clipPath>
<g clip-path="url(#gc855)">
<polygon points="864.80,59.70 862.20,61.20 859.60,59.70 859.60,56.70 862.20,55.20 864.80,56.70" fill="#fafafa"/>
<circle cx="862.20" cy="58.20" r="1.5" fill="#d6d6d6"/>
<polygon points="871.40,59.70 868.80,61.20 866.20,59.70 866.20,56.70 868.80,55.20 871.40,56.70" fill="#fafafa"/>
<circle cx="868.80" cy="58.20" r="1.5" fill="#d6d6d6"/>
<polygon points="878.00,59.70 875.40,61.20 872.80,59.70 872.80,56.70 875.40,55.20 878.00,56.70" fill="#fafafa"/>
<circle cx="875.40" cy="58.20" r="1.5" fill="#d6d6d6"/>
<polygon points="884.60,59.70 882.00,61.20 879.40,59.70 879.40,56.70 882.00,55.20 884.60,56.70" fill="#fafafa"/>
<circle cx="882.00" cy="58.20" r="1.5" fill="#d6d6d6"/>
<polygon points="891.20,59.70 888.60,61.20 886.00,59.70 886.00,56.70 888.60,55.20 891.20,56.70" fill="#fafafa"/>
<circle cx="888.60" cy="58.20" r="1.5" fill="#d6d6d6"/>
<polygon points="897.80,59.70 895.20,61.20 892.60,59.70 892.60,56.70 895.20,55.20 897.80,56.70" fill="#fafafa"/>
<circle cx="895.20" cy="58.20" r="1.5" fill="#d6d6d6"/>
<polygon points="904.40,59.70 901.80,61.20 899.20,59.70 899.20,56.70 901.80,55.20 904.40,56.70" fill="#fafafa"/>
<circle cx="901.80" cy="58.20" r="1.5" fill="#d6d6d6"/>
<polygon points="911.00,59.70 908.40,61.20 905.80,59.70 905.80,56.70 908.40,55.20 911.00,56.70" fill="#fafafa"/>
<circle cx="908.40" cy="58.20" r="1.5" fill="#d6d6d6"/>
<polygon points="917.60,59.70 915.00,61.20 912.40,59.70 912.40,56.70 915.00,55.20 917.60,56.70" fill="#fafafa"/>
<circle cx="915.00" cy="58.20" r="1.5" fill="#d6d6d6"/>
<polygon points="924.20,59.70 921.60,61.20 919.00,59.70 919.00,56.70 921.60,55.20 924.20,56.70" fill="#fafafa"/>
<circle cx="921.60" cy="58.20" r="1.5" fill="#d6d6d6"/>
<polygon points="930.80,59.70 928.20,61.20 925.60,59.70 925.60,56.70 928.20,55.20 930.80,56.70" fill="#fafafa"/>
<circle cx="928.20" cy="58.20" r="1.5" fill="#d6d6d6"/>
<polygon points="937.40,59.70 934.80,61.20 932.20,59.70 932.20,56.70 934.80,55.20 937.40,56.70" fill="#fafafa"/>
<circle cx="934.80" cy="58.20" r="1.5" fill="#d6d6d6"/>
<polygon points="944.00,59.70 941.40,61.20 938.80,59.70 938.80,56.70 941.40,55.20 944.00,56.70" fill="#fafafa"/>
<circle cx="941.40" cy="58.20" r="1.5" fill="#d6d6d6"/>
<polygon points="950.60,59.70 948.00,61.20 945.40,59.70 945.40,56.70 948.00,55.20 950.60,56.70" fill="#fafafa"/>
<circle cx="948.00" cy="58.20" r="1.5" fill="#d6d6d6"/>
<polygon points="957.20,59.70 954.60,61.20 952.00,59.70 952.00,56.70 954.60,55.20 957.20,56.70" fill="#fafafa"/>
<circle cx="954.60" cy="58.20" r="1.5" fill="#d6d6d6"/>
<polygon points="963.80,59.70 961.20,61.20 958.60,59.70 958.60,56.70 961.20,55.20 963.80,56.70" fill="#fafafa"/>
<circle cx="961.20" cy="58.20" r="1.5" fill="#d6d6d6"/>
<polygon points="861.50,65.30 858.90,66.80 856.30,65.30 856.30,62.30 858.90,60.80 861.50,62.30" fill="#fafafa"/>
<circle cx="858.90" cy="63.80" r="1.5" fill="#d6d6d6"/>
<polygon points="868.10,65.30 865.50,66.80 862.90,65.30 862.90,62.30 865.50,60.80 868.10,62.30" fill="#fafafa"/>
<circle cx="865.50" cy="63.80" r="1.5" fill="#d6d6d6"/>
<polygon points="874.70,65.30 872.10,66.80 869.50,65.30 869.50,62.30 872.10,60.80 874.70,62.30" fill="#fafafa"/>
<circle cx="872.10" cy="63.80" r="1.5" fill="#d6d6d6"/>
<polygon points="881.30,65.30 878.70,66.80 876.10,65.30 876.10,62.30 878.70,60.80 881.30,62.30" fill="#fafafa"/>
<circle cx="878.70" cy="63.80" r="1.5" fill="#d6d6d6"/>
<polygon points="887.90,65.30 885.30,66.80 882.70,65.30 882.70,62.30 885.30,60.80 887.90,62.30" fill="#fafafa"/>
<circle cx="885.30" cy="63.80" r="1.5" fill="#d6d6d6"/>
<polygon points="894.50,65.30 891.90,66.80 889.30,65.30 889.30,62.30 891.90,60.80 894.50,62.30" fill="#fafafa"/>
<circle cx="891.90" cy="63.80" r="1.5" fill="#d6d6d6"/>
<polygon points="901.10,65.30 898.50,66.80 895.90,65.30 895.90,62.30 898.50,60.80 901.10,62.30" fill="#fafafa"/>
<circle cx="898.50" cy="63.80" r="1.5" fill="#d6d6d6"/>
<polygon points="907.70,65.30 905.10,66.80 902.50,65.30 902.50,62.30 905.10,60.80 907.70,62.30" fill="#fafafa"/>
<circle cx="905.10" cy="63.80" r="1.5" fill="#d6d6d6"/>
<polygon points="914.30,65.30 911.70,66.80 909.10,65.30 909.10,62.30 911.70,60.80 914.30,62.30" fill="#fafafa"/>
<circle cx="911.70" cy="63.80" r="1.5" fill="#d6d6d6"/>
<polygon points="920.90,65.30 918.30,66.80 915.70,65.30 915.70,62.30 918.30,60.80 920.90,62.30" fill="#fafafa"/>
<circle cx="918.30" cy="63.80" r="1.5" fill="#d6d6d6"/>
<polygon points="927.50,65.30 924.90,66.80 922.30,65.30 922.30,62.30 924.90,60.80 927.50,62.30" fill="#fafafa"/>
<circle cx="924.90" cy="63.80" r="1.5" fill="#d6d6d6"/>
<polygon points="934.10,65.30 931.50,66.80 928.90,65.30 928.90,62.30 931.50,60.80 934.10,62.30" fill="#fafafa"/>
<circle cx="931.50" cy="63.80" r="1.5" fill="#d6d6d6"/>
<polygon points="940.70,65.30 938.10,66.80 935.50,65.30 935.50,62.30 938.10,60.80 940.70,62.30" fill="#fafafa"/>
<circle cx="938.10" cy="63.80" r="1.5" fill="#d6d6d6"/>
<polygon points="947.30,65.30 944.70,66.80 942.10,65.30 942.10,62.30 944.70,60.80 947.30,62.30" fill="#fafafa"/>
<circle cx="944.70" cy="63.80" r="1.5" fill="#d6d6d6"/>
<polygon points="953.90,65.30 951.30,66.80 948.70,65.30 948.70,62.30 951.30,60.80 953.90,62.30" fill="#fafafa"/>
<circle cx="951.30" cy="63.80" r="1.5" fill="#d6d6d6"/>
<polygon points="960.50,65.30 957.90,66.80 955.30,65.30 955.30,62.30 957.90,60.80 960.50,62.30" fill="#fafafa"/>
<circle cx="957.90" cy="63.80" r="1.5" fill="#d6d6d6"/>
<polygon points="967.10,65.30 964.50,66.80 961.90,65.30 961.90,62.30 964.50,60.80 967.10,62.30" fill="#fafafa"/>
<circle cx="964.50" cy="63.80" r="1.5" fill="#d6d6d6"/>
<polygon points="864.80,70.90 862.20,72.40 859.60,70.90 859.60,67.90 862.20,66.40 864.80,67.90" fill="#fafafa"/>
<circle cx="862.20" cy="69.40" r="1.5" fill="#d6d6d6"/>
<polygon points="871.40,70.90 868.80,72.40 866.20,70.90 866.20,67.90 868.80,66.40 871.40,67.90" fill="#fafafa"/>
<circle cx="868.80" cy="69.40" r="1.5" fill="#d6d6d6"/>
<polygon points="878.00,70.90 875.40,72.40 872.80,70.90 872.80,67.90 875.40,66.40 878.00,67.90" fill="#fafafa"/>
<circle cx="875.40" cy="69.40" r="1.5" fill="#d6d6d6"/>
<polygon points="884.60,70.90 882.00,72.40 879.40,70.90 879.40,67.90 882.00,66.40 884.60,67.90" fill="#fafafa"/>
<circle cx="882.00" cy="69.40" r="1.5" fill="#d6d6d6"/>
<polygon points="891.20,70.90 888.60,72.40 886.00,70.90 886.00,67.90 888.60,66.40 891.20,67.90" fill="#fafafa"/>
<circle cx="888.60" cy="69.40" r="1.5" fill="#d6d6d6"/>
<polygon points="897.80,70.90 895.20,72.40 892.60,70.90 892.60,67.90 895.20,66.40 897.80,67.90" fill="#fafafa"/>
<circle cx="895.20" cy="69.40" r="1.5" fill="#d6d6d6"/>
<polygon points="904.40,70.90 901.80,72.40 899.20,70.90 899.20,67.90 901.80,66.40 904.40,67.90" fill="#fafafa"/>
<circle cx="901.80" cy="69.40" r="1.5" fill="#d6d6d6"/>
<polygon points="911.00,70.90 908.40,72.40 905.80,70.90 905.80,67.90 908.40,66.40 911.00,67.90" fill="#fafafa"/>
<circle cx="908.40" cy="69.40" r="1.5" fill="#d6d6d6"/>
<polygon points="917.60,70.90 915.00,72.40 912.40,70.90 912.40,67.90 915.00,66.40 917.60,67.90" fill="#fafafa"/>
<circle cx="915.00" cy="69.40" r="1.5" fill="#d6d6d6"/>
<polygon points="924.20,70.90 921.60,72.40 919.00,70.90 919.00,67.90 921.60,66.40 924.20,67.90" fill="#fafafa"/>
<circle cx="921.60" cy="69.40" r="1.5" fill="#d6d6d6"/>
<polygon points="930.80,70.90 928.20,72.40 925.60,70.90 925.60,67.90 928.20,66.40 930.80,67.90" fill="#fafafa"/>
<circle cx="928.20" cy="69.40" r="1.5" fill="#d6d6d6"/>
<polygon points="937.40,70.90 934.80,72.40 932.20,70.90 932.20,67.90 934.80,66.40 937.40,67.90" fill="#fafafa"/>
<circle cx="934.80" cy="69.40" r="1.5" fill="#d6d6d6"/>
<polygon points="944.00,70.90 941.40,72.40 938.80,70.90 938.80,67.90 941.40,66.40 944.00,67.90" fill="#fafafa"/>
<circle cx="941.40" cy="69.40" r="1.5" fill="#d6d6d6"/>
<polygon points="950.60,70.90 948.00,72.40 945.40,70.90 945.40,67.90 948.00,66.40 950.60,67.90" fill="#fafafa"/>
<circle cx="948.00" cy="69.40" r="1.5" fill="#d6d6d6"/>
<polygon points="957.20,70.90 954.60,72.40 952.00,70.90 952.00,67.90 954.60,66.40 957.20,67.90" fill="#fafafa"/>
<circle cx="954.60" cy="69.40" r="1.5" fill="#d6d6d6"/>
<polygon points="963.80,70.90 961.20,72.40 958.60,70.90 958.60,67.90 961.20,66.40 963.80,67.90" fill="#fafafa"/>
<circle cx="961.20" cy="69.40" r="1.5" fill="#d6d6d6"/>
<polygon points="861.50,76.50 858.90,78.00 856.30,76.50 856.30,73.50 858.90,72.00 861.50,73.50" fill="#fafafa"/>
<circle cx="858.90" cy="75.00" r="1.5" fill="#d6d6d6"/>
<polygon points="868.10,76.50 865.50,78.00 862.90,76.50 862.90,73.50 865.50,72.00 868.10,73.50" fill="#fafafa"/>
<circle cx="865.50" cy="75.00" r="1.5" fill="#d6d6d6"/>
<polygon points="874.70,76.50 872.10,78.00 869.50,76.50 869.50,73.50 872.10,72.00 874.70,73.50" fill="#fafafa"/>
<circle cx="872.10" cy="75.00" r="1.5" fill="#d6d6d6"/>
<polygon points="881.30,76.50 878.70,78.00 876.10,76.50 876.10,73.50 878.70,72.00 881.30,73.50" fill="#fafafa"/>
<circle cx="878.70" cy="75.00" r="1.5" fill="#d6d6d6"/>
<polygon points="887.90,76.50 885.30,78.00 882.70,76.50 882.70,73.50 885.30,72.00 887.90,73.50" fill="#fafafa"/>
<circle cx="885.30" cy="75.00" r="1.5" fill="#d6d6d6"/>
<polygon points="894.50,76.50 891.90,78.00 889.30,76.50 889.30,73.50 891.90,72.00 894.50,73.50" fill="#fafafa"/>
<circle cx="891.90" cy="75.00" r="1.5" fill="#d6d6d6"/>
<polygon points="901.10,76.50 898.50,78.00 895.90,76.50 895.90,73.50 898.50,72.00 901.10,73.50" fill="#fafafa"/>
<circle cx="898.50" cy="75.00" r="1.5" fill="#d6d6d6"/>
<polygon points="907.70,76.50 905.10,78.00 902.50,76.50 902.50,73.50 905.10,72.00 907.70,73.50" fill="#fafafa"/>
<circle cx="905.10" cy="75.00" r="1.5" fill="#d6d6d6"/>
<polygon points="914.30,76.50 911.70,78.00 909.10,76.50 909.10,73.50 911.70,72.00 914.30,73.50" fill="#fafafa"/>
<circle cx="911.70" cy="75.00" r="1.5" fill="#d6d6d6"/>
<polygon points="920.90,76.50 918.30,78.00 915.70,76.50 915.70,73.50 918.30,72.00 920.90,73.50" fill="#fafafa"/>
<circle cx="918.30" cy="75.00" r="1.5" fill="#d6d6d6"/>
<polygon points="927.50,76.50 924.90,78.00 922.30,76.50 922.30,73.50 924.90,72.00 927.50,73.50" fill="#fafafa"/>
<circle cx="924.90" cy="75.00" r="1.5" fill="#d6d6d6"/>
<polygon points="934.10,76.50 931.50,78.00 928.90,76.50 928.90,73.50 931.50,72.00 934.10,73.50" fill="#fafafa"/>
<circle cx="931.50" cy="75.00" r="1.5" fill="#d6d6d6"/>
<polygon points="940.70,76.50 938.10,78.00 935.50,76.50 935.50,73.50 938.10,72.00 940.70,73.50" fill="#fafafa"/>
<circle cx="938.10" cy="75.00" r="1.5" fill="#d6d6d6"/>
<polygon points="947.30,76.50 944.70,78.00 942.10,76.50 942.10,73.50 944.70,72.00 947.30,73.50" fill="#fafafa"/>
<circle cx="944.70" cy="75.00" r="1.5" fill="#d6d6d6"/>
<polygon points="953.90,76.50 951.30,78.00 948.70,76.50 948.70,73.50 951.30,72.00 953.90,73.50" fill="#fafafa"/>
<circle cx="951.30" cy="75.00" r="1.5" fill="#d6d6d6"/>
<polygon points="960.50,76.50 957.90,78.00 955.30,76.50 955.30,73.50 957.90,72.00 960.50,73.50" fill="#fafafa"/>
<circle cx="957.90" cy="75.00" r="1.5" fill="#d6d6d6"/>
<polygon points="967.10,76.50 964.50,78.00 961.90,76.50 961.90,73.50 964.50,72.00 967.10,73.50" fill="#fafafa"/>
<circle cx="964.50" cy="75.00" r="1.5" fill="#d6d6d6"/>
<polygon points="864.80,82.10 862.20,83.60 859.60,82.10 859.60,79.10 862.20,77.60 864.80,79.10" fill="#fafafa"/>
<circle cx="862.20" cy="80.60" r="1.5" fill="#d6d6d6"/>
<polygon points="871.40,82.10 868.80,83.60 866.20,82.10 866.20,79.10 868.80,77.60 871.40,79.10" fill="#fafafa"/>
<circle cx="868.80" cy="80.60" r="1.5" fill="#d6d6d6"/>
<polygon points="878.00,82.10 875.40,83.60 872.80,82.10 872.80,79.10 875.40,77.60 878.00,79.10" fill="#fafafa"/>
<circle cx="875.40" cy="80.60" r="1.5" fill="#d6d6d6"/>
<polygon points="884.60,82.10 882.00,83.60 879.40,82.10 879.40,79.10 882.00,77.60 884.60,79.10" fill="#fafafa"/>
<circle cx="882.00" cy="80.60" r="1.5" fill="#d6d6d6"/>
<polygon points="891.20,82.10 888.60,83.60 886.00,82.10 886.00,79.10 888.60,77.60 891.20,79.10" fill="#fafafa"/>
<circle cx="888.60" cy="80.60" r="1.5" fill="#d6d6d6"/>
<polygon points="897.80,82.10 895.20,83.60 892.60,82.10 892.60,79.10 895.20,77.60 897.80,79.10" fill="#fafafa"/>
<circle cx="895.20" cy="80.60" r="1.5" fill="#d6d6d6"/>
<polygon points="904.40,82.10 901.80,83.60 899.20,82.10 899.20,79.10 901.80,77.60 904.40,79.10" fill="#fafafa"/>
<circle cx="901.80" cy="80.60" r="1.5" fill="#d6d6d6"/>
<polygon points="911.00,82.10 908.40,83.60 905.80,82.10 905.80,79.10 908.40,77.60 911.00,79.10" fill="#fafafa"/>
<circle cx="908.40" cy="80.60" r="1.5" fill="#d6d6d6"/>
<polygon points="917.60,82.10 915.00,83.60 912.40,82.10 912.40,79.10 915.00,77.60 917.60,79.10" fill="#fafafa"/>
<circle cx="915.00" cy="80.60" r="1.5" fill="#d6d6d6"/>
<polygon points="924.20,82.10 921.60,83.60 919.00,82.10 919.00,79.10 921.60,77.60 924.20,79.10" fill="#fafafa"/>
<circle cx="921.60" cy="80.60" r="1.5" fill="#d6d6d6"/>
<polygon points="930.80,82.10 928.20,83.60 925.60,82.10 925.60,79.10 928.20,77.60 930.80,79.10" fill="#fafafa"/>
<circle cx="928.20" cy="80.60" r="1.5" fill="#d6d6d6"/>
<polygon points="937.40,82.10 934.80,83.60 932.20,82.10 932.20,79.10 934.80,77.60 937.40,79.10" fill="#fafafa"/>
<circle cx="934.80" cy="80.60" r="1.5" fill="#d6d6d6"/>
<polygon points="944.00,82.10 941.40,83.60 938.80,82.10 938.80,79.10 941.40,77.60 944.00,79.10" fill="#fafafa"/>
<circle cx="941.40" cy="80.60" r="1.5" fill="#d6d6d6"/>
<polygon points="950.60,82.10 948.00,83.60 945.40,82.10 945.40,79.10 948.00,77.60 950.60,79.10" fill="#fafafa"/>
<circle cx="948.00" cy="80.60" r="1.5" fill="#d6d6d6"/>
<polygon points="957.20,82.10 954.60,83.60 952.00,82.10 952.00,79.10 954.60,77.60 957.20,79.10" fill="#fafafa"/>
<circle cx="954.60" cy="80.60" r="1.5" fill="#d6d6d6"/>
<polygon points="963.80,82.10 961.20,83.60 958.60,82.10 958.60,79.10 961.20,77.60 963.80,79.10" fill="#fafafa"/>
<circle cx="961.20" cy="80.60" r="1.5" fill="#d6d6d6"/>
<polygon points="861.50,87.70 858.90,89.20 856.30,87.70 856.30,84.70 858.90,83.20 861.50,84.70" fill="#fafafa"/>
<circle cx="858.90" cy="86.20" r="1.5" fill="#d6d6d6"/>
<polygon points="868.10,87.70 865.50,89.20 862.90,87.70 862.90,84.70 865.50,83.20 868.10,84.70" fill="#fafafa"/>
<circle cx="865.50" cy="86.20" r="1.5" fill="#d6d6d6"/>
<polygon points="874.70,87.70 872.10,89.20 869.50,87.70 869.50,84.70 872.10,83.20 874.70,84.70" fill="#fafafa"/>
<circle cx="872.10" cy="86.20" r="1.5" fill="#d6d6d6"/>
<polygon points="881.30,87.70 878.70,89.20 876.10,87.70 876.10,84.70 878.70,83.20 881.30,84.70" fill="#fafafa"/>
<circle cx="878.70" cy="86.20" r="1.5" fill="#d6d6d6"/>
<polygon points="887.90,87.70 885.30,89.20 882.70,87.70 882.70,84.70 885.30,83.20 887.90,84.70" fill="#fafafa"/>
<circle cx="885.30" cy="86.20" r="1.5" fill="#d6d6d6"/>
<polygon points="894.50,87.70 891.90,89.20 889.30,87.70 889.30,84.70 891.90,83.20 894.50,84.70" fill="#fafafa"/>
<circle cx="891.90" cy="86.20" r="1.5" fill="#d6d6d6"/>
<polygon points="901.10,87.70 898.50,89.20 895.90,87.70 895.90,84.70 898.50,83.20 901.10,84.70" fill="#fafafa"/>
<circle cx="898.50" cy="86.20" r="1.5" fill="#d6d6d6"/>
<polygon points="907.70,87.70 905.10,89.20 902.50,87.70 902.50,84.70 905.10,83.20 907.70,84.70" fill="#fafafa"/>
<circle cx="905.10" cy="86.20" r="1.5" fill="#d6d6d6"/>
<polygon points="914.30,87.70 911.70,89.20 909.10,87.70 909.10,84.70 911.70,83.20 914.30,84.70" fill="#fafafa"/>
<circle cx="911.70" cy="86.20" r="1.5" fill="#d6d6d6"/>
<polygon points="920.90,87.70 918.30,89.20 915.70,87.70 915.70,84.70 918.30,83.20 920.90,84.70" fill="#fafafa"/>
<circle cx="918.30" cy="86.20" r="1.5" fill="#d6d6d6"/>
<polygon points="927.50,87.70 924.90,89.20 922.30,87.70 922.30,84.70 924.90,83.20 927.50,84.70" fill="#fafafa"/>
<circle cx="924.90" cy="86.20" r="1.5" fill="#d6d6d6"/>
<polygon points="934.10,87.70 931.50,89.20 928.90,87.70 928.90,84.70 931.50,83.20 934.10,84.70" fill="#fafafa"/>
<circle cx="931.50" cy="86.20" r="1.5" fill="#d6d6d6"/>
<polygon points="940.70,87.70 938.10,89.20 935.50,87.70 935.50,84.70 938.10,83.20 940.70,84.70" fill="#fafafa"/>
<circle cx="938.10" cy="86.20" r="1.5" fill="#d6d6d6"/>
<polygon points="947.30,87.70 944.70,89.20 942.10,87.70 942.10,84.70 944.70,83.20 947.30,84.70" fill="#fafafa"/>
<circle cx="944.70" cy="86.20" r="1.5" fill="#d6d6d6"/>
<polygon points="953.90,87.70 951.30,89.20 948.70,87.70 948.70,84.70 951.30,83.20 953.90,84.70" fill="#fafafa"/>
<circle cx="951.30" cy="86.20" r="1.5" fill="#d6d6d6"/>
<polygon points="960.50,87.70 957.90,89.20 955.30,87.70 955.30,84.70 957.90,83.20 960.50,84.70" fill="#fafafa"/>
<circle cx="957.90" cy="86.20" r="1.5" fill="#d6d6d6"/>
<polygon points="967.10,87.70 964.50,89.20 961.90,87.70 961.90,84.70 964.50,83.20 967.10,84.70" fill="#fafafa"/>
<circle cx="964.50" cy="86.20" r="1.5" fill="#d6d6d6"/>
</g>
<rect x="634.3" y="89.5" width="354.70000000000005" height="507.1" fill="#eeeeee" stroke="#4a4a4a" stroke-width="1.1"/>
<line x1="836.6" y1="89.5" x2="836.6" y2="596.6" stroke="#3a3a3a" stroke-width="1.1"/>
<rect x="638.7" y="94.5" width="193.5999999999999" height="497.70000000000005" fill="#d8d8d8" stroke="#2e2e2e" stroke-width="1.1"/>
<path d="M640.0,590.9000000000001 V95.8 H831.0" fill="none" stroke="#f2f2f2" stroke-width="0.9"/>
<rect x="840.7" y="94.5" width="143.5999999999999" height="497.70000000000005" fill="#d8d8d8" stroke="#2e2e2e" stroke-width="1.1"/>
<path d="M842.0,590.9000000000001 V95.8 H983.0" fill="none" stroke="#f2f2f2" stroke-width="0.9"/>
<rect x="639.2" y="152.8" width="2" height="259.8" fill="#a4a4a4"/>
<path d="M642.5,297.7 V153.60000000000002 H702.8" fill="none" stroke="#f4f4f4" stroke-width="0.9"/>
<path d="M642.5,368.3 V300.5 H702.8" fill="none" stroke="#f4f4f4" stroke-width="0.9"/>
<path d="M642.5,411.1 V371.1 H702.8" fill="none" stroke="#f4f4f4" stroke-width="0.9"/>
<path d="M705.5999999999999,297.7 V153.60000000000002 H766.1" fill="none" stroke="#f4f4f4" stroke-width="0.9"/>
<path d="M705.5999999999999,368.3 V300.5 H766.1" fill="none" stroke="#f4f4f4" stroke-width="0.9"/>
<path d="M705.5999999999999,411.1 V371.1 H766.1" fill="none" stroke="#f4f4f4" stroke-width="0.9"/>
<path d="M768.9,297.7 V153.60000000000002 H829.0" fill="none" stroke="#f4f4f4" stroke-width="0.9"/>
<path d="M768.9,368.3 V300.5 H829.0" fill="none" stroke="#f4f4f4" stroke-width="0.9"/>
<path d="M768.9,411.1 V371.1 H829.0" fill="none" stroke="#f4f4f4" stroke-width="0.9"/>
<line x1="638.7" y1="151.3" x2="832.3" y2="151.3" stroke="#f4f4f4" stroke-width="0.9"/>
<line x1="638.7" y1="152.3" x2="832.3" y2="152.3" stroke="#262626" stroke-width="1.2"/>
<rect x="641.2" y="152.3" width="189.3" height="260.3" fill="none" stroke="#262626" stroke-width="1"/>
<line x1="704.2" y1="152.3" x2="704.2" y2="412.6" stroke="#111" stroke-width="1.1"/>
<line x1="767.5" y1="152.3" x2="767.5" y2="412.6" stroke="#111" stroke-width="1.1"/>
<line x1="641.2" y1="299.2" x2="830.5" y2="299.2" stroke="#111" stroke-width="1.1"/>
<line x1="641.2" y1="369.8" x2="830.5" y2="369.8" stroke="#111" stroke-width="1.1"/>
<rect x="653.8" y="404.9" width="86.7" height="59.4" fill="#d8d8d8" stroke="#222" stroke-width="1"/>
<rect x="661.4" y="409" width="76.4" height="53.2" fill="none" stroke="#333" stroke-width="0.8"/>
<line x1="686.5" y1="404.9" x2="686.5" y2="464.3" stroke="#333" stroke-width="0.8"/>
<rect x="661.4" y="421.8" width="61.8" height="25.6" fill="#d8d8d8" stroke="#333" stroke-width="0.8"/>
<line x1="723.2" y1="447.4" x2="723.2" y2="462.2" stroke="#333" stroke-width="0.8"/>
<rect x="661.4" y="409" width="13.6" height="12.8" fill="none" stroke="#333" stroke-width="0.8"/>
<line x1="661.4" y1="413.2" x2="675" y2="413.2" stroke="#333" stroke-width="0.7"/>
<line x1="661.4" y1="417.4" x2="675" y2="417.4" stroke="#333" stroke-width="0.7"/>
<circle cx="697.5" cy="434.6" r="3.8" fill="#bbb" stroke="#444" stroke-width="0.8"/>
<line x1="696" y1="433" x2="699" y2="436" stroke="#111" stroke-width="1"/>
<rect x="681" y="475.4" width="109" height="19.80000000000001" fill="#a4a4a4" stroke="#333" stroke-width="1"/>
<circle cx="692.20" cy="490.40" r="2.2" fill="#ececec" stroke="#1a1a1a" stroke-width="1.1"/>
<circle cx="703.09" cy="490.40" r="2.2" fill="#ececec" stroke="#1a1a1a" stroke-width="1.1"/>
<circle cx="713.98" cy="490.40" r="2.2" fill="#ececec" stroke="#1a1a1a" stroke-width="1.1"/>
<circle cx="724.86" cy="490.40" r="2.2" fill="#ececec" stroke="#1a1a1a" stroke-width="1.1"/>
<circle cx="735.75" cy="490.40" r="2.2" fill="#ececec" stroke="#1a1a1a" stroke-width="1.1"/>
<circle cx="746.64" cy="490.40" r="2.2" fill="#ececec" stroke="#1a1a1a" stroke-width="1.1"/>
<circle cx="757.52" cy="490.40" r="2.2" fill="#ececec" stroke="#1a1a1a" stroke-width="1.1"/>
<circle cx="768.41" cy="490.40" r="2.2" fill="#ececec" stroke="#1a1a1a" stroke-width="1.1"/>
<circle cx="779.30" cy="490.40" r="2.2" fill="#ececec" stroke="#1a1a1a" stroke-width="1.1"/>
<circle cx="671" cy="485.4" r="7.8" fill="#fff"/>
<text x="671.2" y="489.4" font-size="11.2" font-weight="bold" text-anchor="middle" fill="#111">L1</text>
<rect x="681" y="495.2" width="109" height="18.900000000000034" fill="#bababa" stroke="#333" stroke-width="1"/>
<circle cx="692.20" cy="509.30" r="2.2" fill="#ececec" stroke="#1a1a1a" stroke-width="1.1"/>
<circle cx="703.09" cy="509.30" r="2.2" fill="#ececec" stroke="#1a1a1a" stroke-width="1.1"/>
<circle cx="713.98" cy="509.30" r="2.2" fill="#ececec" stroke="#1a1a1a" stroke-width="1.1"/>
<circle cx="724.86" cy="509.30" r="2.2" fill="#ececec" stroke="#1a1a1a" stroke-width="1.1"/>
<circle cx="735.75" cy="509.30" r="2.2" fill="#ececec" stroke="#1a1a1a" stroke-width="1.1"/>
<circle cx="746.64" cy="509.30" r="2.2" fill="#ececec" stroke="#1a1a1a" stroke-width="1.1"/>
<circle cx="757.52" cy="509.30" r="2.2" fill="#ececec" stroke="#1a1a1a" stroke-width="1.1"/>
<circle cx="768.41" cy="509.30" r="2.2" fill="#ececec" stroke="#1a1a1a" stroke-width="1.1"/>
<circle cx="779.30" cy="509.30" r="2.2" fill="#ececec" stroke="#1a1a1a" stroke-width="1.1"/>
<circle cx="671" cy="504.3" r="7.8" fill="#fff"/>
<text x="671.2" y="508.3" font-size="11.2" font-weight="bold" text-anchor="middle" fill="#111">L2</text>
<rect x="681" y="514.1" width="109" height="18.5" fill="#dcdcdc" stroke="#333" stroke-width="1"/>
<circle cx="692.20" cy="527.80" r="2.2" fill="#ececec" stroke="#1a1a1a" stroke-width="1.1"/>
<circle cx="703.09" cy="527.80" r="2.2" fill="#ececec" stroke="#1a1a1a" stroke-width="1.1"/>
<circle cx="713.98" cy="527.80" r="2.2" fill="#ececec" stroke="#1a1a1a" stroke-width="1.1"/>
<circle cx="724.86" cy="527.80" r="2.2" fill="#ececec" stroke="#1a1a1a" stroke-width="1.1"/>
<circle cx="735.75" cy="527.80" r="2.2" fill="#ececec" stroke="#1a1a1a" stroke-width="1.1"/>
<circle cx="746.64" cy="527.80" r="2.2" fill="#ececec" stroke="#1a1a1a" stroke-width="1.1"/>
<circle cx="757.52" cy="527.80" r="2.2" fill="#ececec" stroke="#1a1a1a" stroke-width="1.1"/>
<circle cx="768.41" cy="527.80" r="2.2" fill="#ececec" stroke="#1a1a1a" stroke-width="1.1"/>
<circle cx="779.30" cy="527.80" r="2.2" fill="#ececec" stroke="#1a1a1a" stroke-width="1.1"/>
<circle cx="671" cy="522.9" r="7.8" fill="#fff"/>
<text x="671.2" y="526.9" font-size="11.2" font-weight="bold" text-anchor="middle" fill="#111">L3</text>
<path d="M716,546.2 L731.8,536.4 L748,546.2 Z" fill="none" stroke="#fff" stroke-width="2.8" stroke-linejoin="round"/>
<path d="M716,546.2 L731.8,536.4 L748,546.2 Z" fill="none" stroke="#111" stroke-width="1.1"/>
<text x="731.6" y="564.5" font-size="16.4" text-anchor="middle" fill="#111" stroke="#fff" stroke-width="2" paint-order="stroke" stroke-linejoin="round">Line</text>
<line x1="841" y1="152" x2="984" y2="152" stroke="#222" stroke-width="1.1"/>
<rect x="841" y="152" width="16.6" height="19.6" fill="#d8d8d8" stroke="#333" stroke-width="0.9"/>
<rect x="857.6" y="152" width="62.9" height="19.6" fill="#d8d8d8" stroke="#333" stroke-width="0.9"/>
<rect x="920.5" y="152" width="63.5" height="19.6" fill="#d8d8d8" stroke="#333" stroke-width="0.9"/>
<rect x="845" y="173" width="124" height="199.2" fill="#dcdcdc" stroke="#333" stroke-width="0.9"/>
<line x1="845.3" y1="173" x2="845.3" y2="372.2" stroke="#111" stroke-width="1.4"/>
<rect x="968.2" y="173" width="14" height="207.3" fill="#d6d6d6"/>
<line x1="969.2" y1="173" x2="969.2" y2="380.3" stroke="#6a6a6a" stroke-width="1.8"/>
<line x1="969.2" y1="173" x2="969.2" y2="380.3" stroke="#3a3a3a" stroke-width="1.8" stroke-dasharray="0.9 0.9"/>
<line x1="981.2" y1="173" x2="981.2" y2="380.3" stroke="#6a6a6a" stroke-width="1.8"/>
<line x1="981.2" y1="173" x2="981.2" y2="380.3" stroke="#3a3a3a" stroke-width="1.8" stroke-dasharray="0.9 0.9"/>
<line x1="983.5" y1="173" x2="983.5" y2="380" stroke="#222" stroke-width="0.9"/>
<rect x="849.5" y="173.5" width="15" height="15.3" fill="#e4e4e4" stroke="#151515" stroke-width="1"/>
<line x1="849.5" y1="177" x2="864.5" y2="177" stroke="#555" stroke-width="0.6"/>
<line x1="849.5" y1="180" x2="864.5" y2="180" stroke="#555" stroke-width="0.6"/>
<rect x="866.0" y="173.5" width="15" height="15.3" fill="#e4e4e4" stroke="#151515" stroke-width="1"/>
<line x1="866.0" y1="177" x2="881.0" y2="177" stroke="#555" stroke-width="0.6"/>
<line x1="866.0" y1="180" x2="881.0" y2="180" stroke="#555" stroke-width="0.6"/>
<rect x="882.5" y="173.5" width="15" height="15.3" fill="#e4e4e4" stroke="#151515" stroke-width="1"/>
<line x1="882.5" y1="177" x2="897.5" y2="177" stroke="#555" stroke-width="0.6"/>
<line x1="882.5" y1="180" x2="897.5" y2="180" stroke="#555" stroke-width="0.6"/>
<rect x="899.0" y="173.5" width="15" height="15.3" fill="#e4e4e4" stroke="#151515" stroke-width="1"/>
<line x1="899.0" y1="177" x2="914.0" y2="177" stroke="#555" stroke-width="0.6"/>
<line x1="899.0" y1="180" x2="914.0" y2="180" stroke="#555" stroke-width="0.6"/>
<rect x="846" y="176" width="3.5" height="7" fill="#ccc" stroke="#555" stroke-width="0.5"/>
<rect x="845.5" y="191" width="123.0" height="9.900000000000006" fill="#d9d9d9"/>
<line x1="845.5" y1="191.9" x2="968.5" y2="191.9" stroke="#5c5c5c" stroke-width="1.8"/>
<line x1="845.5" y1="191.9" x2="968.5" y2="191.9" stroke="#3a3a3a" stroke-width="1.8" stroke-dasharray="0.9 0.9"/>
<line x1="845.5" y1="200.0" x2="968.5" y2="200.0" stroke="#5c5c5c" stroke-width="1.8"/>
<line x1="845.5" y1="200.0" x2="968.5" y2="200.0" stroke="#3a3a3a" stroke-width="1.8" stroke-dasharray="0.9 0.9"/>
<line x1="845.5" y1="193.4" x2="968.5" y2="193.4" stroke="#f4f4f4" stroke-width="0.7" stroke-dasharray="1 0.8"/>
<line x1="845.5" y1="198.5" x2="968.5" y2="198.5" stroke="#f4f4f4" stroke-width="0.7" stroke-dasharray="1 0.8"/>
<rect x="845.5" y="238.2" width="68.39999999999998" height="9.800000000000011" fill="#d9d9d9"/>
<line x1="845.5" y1="239.1" x2="913.9" y2="239.1" stroke="#5c5c5c" stroke-width="1.8"/>
<line x1="845.5" y1="239.1" x2="913.9" y2="239.1" stroke="#3a3a3a" stroke-width="1.8" stroke-dasharray="0.9 0.9"/>
<line x1="845.5" y1="247.1" x2="913.9" y2="247.1" stroke="#5c5c5c" stroke-width="1.8"/>
<line x1="845.5" y1="247.1" x2="913.9" y2="247.1" stroke="#3a3a3a" stroke-width="1.8" stroke-dasharray="0.9 0.9"/>
<line x1="845.5" y1="240.6" x2="913.9" y2="240.6" stroke="#f4f4f4" stroke-width="0.7" stroke-dasharray="1 0.8"/>
<line x1="845.5" y1="245.6" x2="913.9" y2="245.6" stroke="#f4f4f4" stroke-width="0.7" stroke-dasharray="1 0.8"/>
<rect x="845.5" y="280.9" width="80.5" height="9.900000000000034" fill="#d9d9d9"/>
<line x1="845.5" y1="281.79999999999995" x2="926" y2="281.79999999999995" stroke="#5c5c5c" stroke-width="1.8"/>
<line x1="845.5" y1="281.79999999999995" x2="926" y2="281.79999999999995" stroke="#3a3a3a" stroke-width="1.8" stroke-dasharray="0.9 0.9"/>
<line x1="845.5" y1="289.90000000000003" x2="926" y2="289.90000000000003" stroke="#5c5c5c" stroke-width="1.8"/>
<line x1="845.5" y1="289.90000000000003" x2="926" y2="289.90000000000003" stroke="#3a3a3a" stroke-width="1.8" stroke-dasharray="0.9 0.9"/>
<line x1="845.5" y1="283.29999999999995" x2="926" y2="283.29999999999995" stroke="#f4f4f4" stroke-width="0.7" stroke-dasharray="1 0.8"/>
<line x1="845.5" y1="288.40000000000003" x2="926" y2="288.40000000000003" stroke="#f4f4f4" stroke-width="0.7" stroke-dasharray="1 0.8"/>
<rect x="845.5" y="324" width="123.0" height="9.800000000000011" fill="#d9d9d9"/>
<line x1="845.5" y1="324.9" x2="968.5" y2="324.9" stroke="#5c5c5c" stroke-width="1.8"/>
<line x1="845.5" y1="324.9" x2="968.5" y2="324.9" stroke="#3a3a3a" stroke-width="1.8" stroke-dasharray="0.9 0.9"/>
<line x1="845.5" y1="332.90000000000003" x2="968.5" y2="332.90000000000003" stroke="#5c5c5c" stroke-width="1.8"/>
<line x1="845.5" y1="332.90000000000003" x2="968.5" y2="332.90000000000003" stroke="#3a3a3a" stroke-width="1.8" stroke-dasharray="0.9 0.9"/>
<line x1="845.5" y1="326.4" x2="968.5" y2="326.4" stroke="#f4f4f4" stroke-width="0.7" stroke-dasharray="1 0.8"/>
<line x1="845.5" y1="331.40000000000003" x2="968.5" y2="331.40000000000003" stroke="#f4f4f4" stroke-width="0.7" stroke-dasharray="1 0.8"/>
<rect x="845.5" y="362.3" width="123.0" height="9.899999999999977" fill="#d9d9d9"/>
<line x1="845.5" y1="363.2" x2="968.5" y2="363.2" stroke="#5c5c5c" stroke-width="1.8"/>
<line x1="845.5" y1="363.2" x2="968.5" y2="363.2" stroke="#3a3a3a" stroke-width="1.8" stroke-dasharray="0.9 0.9"/>
<line x1="845.5" y1="371.3" x2="968.5" y2="371.3" stroke="#5c5c5c" stroke-width="1.8"/>
<line x1="845.5" y1="371.3" x2="968.5" y2="371.3" stroke="#3a3a3a" stroke-width="1.8" stroke-dasharray="0.9 0.9"/>
<line x1="845.5" y1="364.7" x2="968.5" y2="364.7" stroke="#f4f4f4" stroke-width="0.7" stroke-dasharray="1 0.8"/>
<line x1="845.5" y1="369.8" x2="968.5" y2="369.8" stroke="#f4f4f4" stroke-width="0.7" stroke-dasharray="1 0.8"/>
<rect x="845.5" y="213" width="53" height="13" fill="#e4e4e4" stroke="#222" stroke-width="1.4"/>
<rect x="898.6" y="209" width="14.2" height="20" fill="#d4d4d4" stroke="#333" stroke-width="0.8"/>
<line x1="903" y1="209" x2="903" y2="229" stroke="#333" stroke-width="0.7"/><line x1="907.5" y1="209" x2="907.5" y2="229" stroke="#333" stroke-width="0.7"/>
<rect x="912.8" y="203.7" width="49.8" height="32.3" rx="1.5" fill="#dadada" stroke="#333" stroke-width="0.9"/>
<line x1="921" y1="203.7" x2="921" y2="236" stroke="#333" stroke-width="0.8"/>
<rect x="926" y="233" width="7.5" height="2" fill="#555"/>
<rect x="938" y="233" width="7.5" height="2" fill="#555"/>
<rect x="950" y="233" width="7.5" height="2" fill="#555"/>
<rect x="846" y="250.2" width="16" height="28.5" fill="#eaeaea" stroke="#555" stroke-width="0.7"/>
<circle cx="849" cy="253.5" r="1.1" fill="#111"/><circle cx="849" cy="276" r="1.1" fill="#111"/>
<circle cx="854" cy="253.5" r="1.1" fill="#111"/><circle cx="854" cy="276" r="1.1" fill="#111"/>
<circle cx="859" cy="253.5" r="1.1" fill="#111"/><circle cx="859" cy="276" r="1.1" fill="#111"/>
<rect x="850" y="259" width="8" height="9" fill="#bbb" stroke="#555" stroke-width="0.5"/>
<rect x="873" y="250.2" width="16" height="28.5" fill="#eaeaea" stroke="#555" stroke-width="0.7"/>
<circle cx="876" cy="253.5" r="1.1" fill="#111"/><circle cx="876" cy="276" r="1.1" fill="#111"/>
<circle cx="881" cy="253.5" r="1.1" fill="#111"/><circle cx="881" cy="276" r="1.1" fill="#111"/>
<circle cx="886" cy="253.5" r="1.1" fill="#111"/><circle cx="886" cy="276" r="1.1" fill="#111"/>
<rect x="877" y="259" width="8" height="9" fill="#bbb" stroke="#555" stroke-width="0.5"/>
<rect x="862.5" y="250.2" width="10" height="28.5" fill="#e0e0e0" stroke="#777" stroke-width="0.6"/>
<rect x="889.8" y="258.5" width="28.5" height="11.5" fill="#e8e8e8" stroke="#888" stroke-width="1"/>
<rect x="927.5" y="247" width="36.8" height="39.4" rx="3" fill="#dedede" stroke="#222" stroke-width="1.1"/>
<rect x="929.5" y="249" width="32.8" height="35.4" rx="2" fill="none" stroke="#444" stroke-width="0.7"/>
<rect x="929.5" y="256" width="3" height="9" rx="1" fill="#eee" stroke="#333" stroke-width="0.7"/>
<rect x="945" y="269" width="4.5" height="4.5" fill="none" stroke="#222" stroke-width="0.9"/>
<rect x="929.8" y="286.4" width="31.9" height="16" fill="#dcdcdc" stroke="#333" stroke-width="0.9"/>
<rect x="845.5" y="296.6" width="25.7" height="20.8" fill="#e6e6e6" stroke="#444" stroke-width="0.9"/>
<line x1="845.5" y1="301" x2="871.2" y2="301" stroke="#444" stroke-width="0.7"/>
<rect x="871.2" y="303" width="49.3" height="11" fill="#e8e8e8" stroke="#333" stroke-width="1.1"/>
<rect x="845.5" y="339.3" width="13" height="19.7" fill="#222"/>
<rect x="858" y="339.6" width="32" height="19" fill="#3a3a3a"/>
<line x1="858" y1="340.8" x2="890" y2="340.8" stroke="#111" stroke-width="2" />
<line x1="858" y1="342.3" x2="890" y2="342.3" stroke="#bdbdbd" stroke-width="0.6" stroke-dasharray="1.2 1"/>
<line x1="858" y1="344.0" x2="890" y2="344.0" stroke="#111" stroke-width="2" />
<line x1="858" y1="345.5" x2="890" y2="345.5" stroke="#bdbdbd" stroke-width="0.6" stroke-dasharray="1.2 1"/>
<line x1="858" y1="347.2" x2="890" y2="347.2" stroke="#111" stroke-width="2" />
<line x1="858" y1="348.7" x2="890" y2="348.7" stroke="#bdbdbd" stroke-width="0.6" stroke-dasharray="1.2 1"/>
<line x1="858" y1="350.4" x2="890" y2="350.4" stroke="#111" stroke-width="2" />
<line x1="858" y1="351.9" x2="890" y2="351.9" stroke="#bdbdbd" stroke-width="0.6" stroke-dasharray="1.2 1"/>
<line x1="858" y1="353.6" x2="890" y2="353.6" stroke="#111" stroke-width="2" />
<line x1="858" y1="355.1" x2="890" y2="355.1" stroke="#bdbdbd" stroke-width="0.6" stroke-dasharray="1.2 1"/>
<line x1="858" y1="356.8" x2="890" y2="356.8" stroke="#111" stroke-width="2" />
<line x1="858" y1="358.3" x2="890" y2="358.3" stroke="#bdbdbd" stroke-width="0.6" stroke-dasharray="1.2 1"/>
<rect x="889.5" y="339" width="3.3" height="20" rx="1.5" fill="#ccc" stroke="#444" stroke-width="0.6"/>
<rect x="893" y="342.6" width="63" height="13.2" fill="#e6e6e6" stroke="#333" stroke-width="1.1"/>
<path d="M950,302.5 V320 Q950,328 958,328 H969 Q975.4,328 975.4,334.5 V381" fill="none" stroke="#1a1a1a" stroke-width="5"/>
<path d="M950,302.5 V320 Q950,328 958,328 H969 Q975.4,328 975.4,334.5 V381" fill="none" stroke="#9a9a9a" stroke-width="2.6"/>
<path d="M950,302.5 V320 Q950,328 958,328 H969 Q975.4,328 975.4,334.5 V381" fill="none" stroke="#1a1a1a" stroke-width="1"/>
<rect x="857.6" y="372.2" width="63.3" height="41" fill="#d8d8d8" stroke="#333" stroke-width="0.9"/>
<rect x="920.9" y="372.2" width="45.6" height="41" fill="#d8d8d8" stroke="#333" stroke-width="0.9"/>
<rect x="966.6" y="380.3" width="16.6" height="128.7" fill="#bcbcbc"/>
<rect x="967.4" y="380.3" width="1.6" height="128.7" fill="#8a8a8a" opacity="0.8"/><rect x="980.8" y="380.3" width="1.6" height="128.7" fill="#8a8a8a" opacity="0.8"/>
<rect x="966.6" y="380.3" width="16.6" height="128.7" fill="none" stroke="#555" stroke-width="0.8" stroke-dasharray="1 0.8"/>
<rect x="972.4" y="509" width="5.5" height="12.8" fill="#222"/>
<line x1="975.1" y1="509" x2="975.1" y2="521.8" stroke="#888" stroke-width="0.8"/>
<path d="M962.5,525 L972.8,525 L967.6,533.8 Z" fill="#fff" stroke="#111" stroke-width="0.9"/>
<path d="M973,533.8 L983.3,533.8 L978.1,525 Z" fill="#fff" stroke="#111" stroke-width="0.9"/>
<text transform="translate(978.3,563.2) rotate(-90)" font-size="16.4" text-anchor="middle" fill="#111" stroke="#fff" stroke-width="2" paint-order="stroke" stroke-linejoin="round">Control</text>
<rect x="858.3" y="474.6" width="102.60000000000002" height="19.599999999999966" fill="#a4a4a4" stroke="#333" stroke-width="1"/>
<circle cx="874.60" cy="489.40" r="2.2" fill="#ececec" stroke="#1a1a1a" stroke-width="1.1"/>
<circle cx="885.47" cy="489.40" r="2.2" fill="#ececec" stroke="#1a1a1a" stroke-width="1.1"/>
<circle cx="896.34" cy="489.40" r="2.2" fill="#ececec" stroke="#1a1a1a" stroke-width="1.1"/>
<circle cx="907.21" cy="489.40" r="2.2" fill="#ececec" stroke="#1a1a1a" stroke-width="1.1"/>
<circle cx="918.09" cy="489.40" r="2.2" fill="#ececec" stroke="#1a1a1a" stroke-width="1.1"/>
<circle cx="928.96" cy="489.40" r="2.2" fill="#ececec" stroke="#1a1a1a" stroke-width="1.1"/>
<circle cx="939.83" cy="489.40" r="2.2" fill="#ececec" stroke="#1a1a1a" stroke-width="1.1"/>
<circle cx="950.70" cy="489.40" r="2.2" fill="#ececec" stroke="#1a1a1a" stroke-width="1.1"/>
<circle cx="849.7" cy="486.3" r="7.8" fill="#fff"/>
<text x="849.9000000000001" y="490.3" font-size="11.2" font-weight="bold" text-anchor="middle" fill="#111">U</text>
<rect x="858.3" y="494.2" width="102.60000000000002" height="19.30000000000001" fill="#bababa" stroke="#333" stroke-width="1"/>
<circle cx="874.60" cy="508.70" r="2.2" fill="#ececec" stroke="#1a1a1a" stroke-width="1.1"/>
<circle cx="885.47" cy="508.70" r="2.2" fill="#ececec" stroke="#1a1a1a" stroke-width="1.1"/>
<circle cx="896.34" cy="508.70" r="2.2" fill="#ececec" stroke="#1a1a1a" stroke-width="1.1"/>
<circle cx="907.21" cy="508.70" r="2.2" fill="#ececec" stroke="#1a1a1a" stroke-width="1.1"/>
<circle cx="918.09" cy="508.70" r="2.2" fill="#ececec" stroke="#1a1a1a" stroke-width="1.1"/>
<circle cx="928.96" cy="508.70" r="2.2" fill="#ececec" stroke="#1a1a1a" stroke-width="1.1"/>
<circle cx="939.83" cy="508.70" r="2.2" fill="#ececec" stroke="#1a1a1a" stroke-width="1.1"/>
<circle cx="950.70" cy="508.70" r="2.2" fill="#ececec" stroke="#1a1a1a" stroke-width="1.1"/>
<circle cx="849.7" cy="504.4" r="7.8" fill="#fff"/>
<text x="849.9000000000001" y="508.4" font-size="11.2" font-weight="bold" text-anchor="middle" fill="#111">V</text>
<rect x="858.3" y="513.5" width="102.60000000000002" height="18.700000000000045" fill="#dcdcdc" stroke="#333" stroke-width="1"/>
<circle cx="874.60" cy="527.40" r="2.2" fill="#ececec" stroke="#1a1a1a" stroke-width="1.1"/>
<circle cx="885.47" cy="527.40" r="2.2" fill="#ececec" stroke="#1a1a1a" stroke-width="1.1"/>
<circle cx="896.34" cy="527.40" r="2.2" fill="#ececec" stroke="#1a1a1a" stroke-width="1.1"/>
<circle cx="907.21" cy="527.40" r="2.2" fill="#ececec" stroke="#1a1a1a" stroke-width="1.1"/>
<circle cx="918.09" cy="527.40" r="2.2" fill="#ececec" stroke="#1a1a1a" stroke-width="1.1"/>
<circle cx="928.96" cy="527.40" r="2.2" fill="#ececec" stroke="#1a1a1a" stroke-width="1.1"/>
<circle cx="939.83" cy="527.40" r="2.2" fill="#ececec" stroke="#1a1a1a" stroke-width="1.1"/>
<circle cx="950.70" cy="527.40" r="2.2" fill="#ececec" stroke="#1a1a1a" stroke-width="1.1"/>
<circle cx="849.7" cy="520.9" r="7.8" fill="#fff"/>
<text x="849.9000000000001" y="524.9" font-size="11.2" font-weight="bold" text-anchor="middle" fill="#111">W</text>
<path d="M895.8,536.2 L928,536.2 L912,546 Z" fill="none" stroke="#fff" stroke-width="2.8" stroke-linejoin="round"/>
<path d="M895.8,536.2 L928,536.2 L912,546 Z" fill="none" stroke="#111" stroke-width="1.1"/>
<text x="912.2" y="563.7" font-size="16.4" text-anchor="middle" fill="#111" stroke="#fff" stroke-width="2" paint-order="stroke" stroke-linejoin="round">Motor</text>
<text x="115" y="670.6" font-size="17.3" fill="#111"><tspan font-weight="bold">NOTE:</tspan> Following customizations affect the total dimensions:</text>
<circle cx="202.7" cy="690.3" r="4" fill="#111"/>
<text x="218.7" y="695.2" font-size="17.3" fill="#111">Increased protection degree IP54</text>
<circle cx="202.7" cy="713.9" r="4" fill="#111"/>
<text x="218.7" y="718.8" font-size="17.3" fill="#111">Enclosure plinth for basic device</text>
<circle cx="589.2" cy="690.4" r="4" fill="#111"/>
<text x="605" y="695.2" font-size="17.2" fill="#111">Connection enclosure cable from  top/bottom</text>
<circle cx="589.2" cy="714.1" r="4" fill="#111"/>
<text x="605" y="719" font-size="17.2" fill="#111">12-pulse supply</text>
</svg>
</body></html>
